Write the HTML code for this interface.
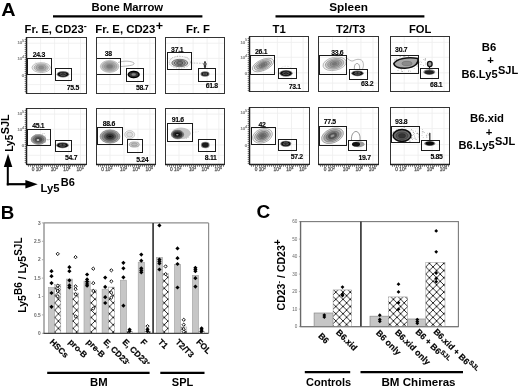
<!DOCTYPE html>
<html><head><meta charset="utf-8"><style>
html,body{margin:0;padding:0;background:#fff;width:520px;height:388px;overflow:hidden}
svg{display:block;font-family:'Liberation Sans',sans-serif;} body{filter:grayscale(1)}
</style></head><body>
<svg xmlns="http://www.w3.org/2000/svg" width="520" height="388" viewBox="0 0 520 388" style="font-family:'Liberation Sans',sans-serif;">
<rect width="520" height="388" fill="#fff"/>
<text transform="translate(1.3,15.8) scale(1.1,1)" font-size="18" font-weight="bold">A</text>
<text x="127.3" y="11.2" font-size="11.3" font-weight="bold" text-anchor="middle" fill="#000" >Bone Marrow</text>
<line x1="53" y1="16.4" x2="202.4" y2="16.4" stroke="#000" stroke-width="2.2"/>
<text x="348.6" y="10.7" font-size="11.8" font-weight="bold" text-anchor="middle" fill="#000" >Spleen</text>
<line x1="275.5" y1="16.4" x2="424.4" y2="16.4" stroke="#000" stroke-width="2.2"/>
<text x="24.6" y="32.6" font-size="11.2" font-weight="bold" text-anchor="start" fill="#000" >Fr. E, CD23<tspan dy="-4" font-size="9">-</tspan></text>
<text x="95.3" y="32.6" font-size="11.35" font-weight="bold" text-anchor="start" fill="#000" >Fr. E, CD23<tspan dx="0.6" dy="-2.4" font-size="12.5">+</tspan></text>
<text x="186" y="32.6" font-size="11.3" font-weight="bold" text-anchor="start" fill="#000" >Fr. F</text>
<text x="272.5" y="32.8" font-size="11.3" font-weight="bold" text-anchor="start" fill="#000" >T1</text>
<text x="336" y="32.8" font-size="11.2" font-weight="bold" text-anchor="start" fill="#000" >T2/T3</text>
<text x="409" y="32.8" font-size="11.2" font-weight="bold" text-anchor="start" fill="#000" >FOL</text>
<line x1="40.6" y1="37.3" x2="40.6" y2="93.6" stroke="#eeeeee" stroke-width="0.8"/>
<line x1="54.6" y1="37.3" x2="54.6" y2="93.6" stroke="#eeeeee" stroke-width="0.8"/>
<line x1="68.6" y1="37.3" x2="68.6" y2="93.6" stroke="#eeeeee" stroke-width="0.8"/>
<line x1="80.5" y1="37.3" x2="80.5" y2="93.6" stroke="#eeeeee" stroke-width="0.8"/>
<line x1="26.6" y1="43.2" x2="86.2" y2="43.2" stroke="#eeeeee" stroke-width="0.8"/>
<line x1="26.6" y1="58.4" x2="86.2" y2="58.4" stroke="#eeeeee" stroke-width="0.8"/>
<line x1="26.6" y1="74.2" x2="86.2" y2="74.2" stroke="#eeeeee" stroke-width="0.8"/>
<line x1="26.6" y1="84.6" x2="86.2" y2="84.6" stroke="#eeeeee" stroke-width="0.8"/>
<circle cx="47.1" cy="70.6" r="0.35" fill="#aaa"/>
<circle cx="41.4" cy="63.5" r="0.35" fill="#aaa"/>
<circle cx="34.3" cy="66.6" r="0.35" fill="#aaa"/>
<circle cx="35.9" cy="62.2" r="0.35" fill="#aaa"/>
<circle cx="42.4" cy="67.1" r="0.35" fill="#aaa"/>
<circle cx="44.4" cy="63.1" r="0.35" fill="#aaa"/>
<circle cx="41.0" cy="66.2" r="0.35" fill="#aaa"/>
<circle cx="33.0" cy="68.2" r="0.35" fill="#aaa"/>
<circle cx="42.3" cy="72.3" r="0.35" fill="#aaa"/>
<circle cx="42.4" cy="65.9" r="0.35" fill="#aaa"/>
<circle cx="48.3" cy="67.2" r="0.35" fill="#aaa"/>
<circle cx="46.7" cy="65.1" r="0.35" fill="#aaa"/>
<circle cx="42.4" cy="70.3" r="0.35" fill="#aaa"/>
<circle cx="45.6" cy="67.0" r="0.35" fill="#aaa"/>
<circle cx="34.5" cy="68.1" r="0.35" fill="#aaa"/>
<circle cx="41.5" cy="69.4" r="0.35" fill="#aaa"/>
<circle cx="42.3" cy="70.5" r="0.35" fill="#aaa"/>
<circle cx="40.6" cy="67.4" r="0.35" fill="#aaa"/>
<ellipse cx="41.2" cy="67.6" rx="9.2" ry="4.9" fill="#f2f2f2" stroke="#777" stroke-width="0.45" />
<ellipse cx="41.2" cy="67.6" rx="7.18" ry="3.82" fill="#c8c8c8" stroke="#777" stroke-width="0.45" />
<ellipse cx="41.2" cy="67.6" rx="5.06" ry="2.7" fill="#a8a8a8" stroke="#777" stroke-width="0.45" />
<ellipse cx="41.2" cy="67.6" rx="2.76" ry="1.47" fill="#8a8a8a" stroke="#777" stroke-width="0.45" />
<ellipse cx="63.0" cy="74.3" rx="6.2" ry="3.2" fill="#777" stroke="none" stroke-width="0.6" />
<ellipse cx="63.0" cy="74.3" rx="5.2" ry="2.4" fill="#0a0a0a" stroke="none" stroke-width="0.6" />
<ellipse cx="63.0" cy="74.3" rx="3.224" ry="1.32" fill="none" stroke="#999" stroke-width="0.45" />
<ellipse cx="61.544" cy="74.3" rx="1.04" ry="0.672" fill="none" stroke="#777" stroke-width="0.4" />
<ellipse cx="64.456" cy="74.3" rx="1.04" ry="0.672" fill="none" stroke="#777" stroke-width="0.4" />
<rect x="27.5" y="58.5" width="24.0" height="16.0" fill="none" stroke="#1a1a1a" stroke-width="1.0"/>
<rect x="55.5" y="68.5" width="16.0" height="12.0" fill="none" stroke="#1a1a1a" stroke-width="1.0"/>
<rect x="26.5" y="37.5" width="60.0" height="56.0" fill="none" stroke="#333" stroke-width="1.0"/>
<text x="32.8" y="57" font-size="6.9" font-weight="bold" text-anchor="start" fill="#000" letter-spacing="-0.3" stroke="#000" stroke-width="0.1">24.3</text>
<text x="66.80000000000001" y="90" font-size="6.9" font-weight="bold" text-anchor="start" fill="#000" letter-spacing="-0.3" stroke="#000" stroke-width="0.1">75.5</text>
<line x1="26.5" y1="37.3" x2="26.5" y2="93.6" stroke="#1a1a1a" stroke-width="1.5"/>
<line x1="24.7" y1="39.5" x2="26.5" y2="39.5" stroke="#444" stroke-width="0.7"/>
<line x1="24.7" y1="41.5" x2="26.5" y2="41.5" stroke="#444" stroke-width="0.7"/>
<line x1="24.7" y1="43.5" x2="26.5" y2="43.5" stroke="#444" stroke-width="0.7"/>
<line x1="24.7" y1="45.5" x2="26.5" y2="45.5" stroke="#444" stroke-width="0.7"/>
<line x1="24.7" y1="47.5" x2="26.5" y2="47.5" stroke="#444" stroke-width="0.7"/>
<line x1="24.7" y1="49.5" x2="26.5" y2="49.5" stroke="#444" stroke-width="0.7"/>
<line x1="24.7" y1="51.5" x2="26.5" y2="51.5" stroke="#444" stroke-width="0.7"/>
<line x1="24.7" y1="53.5" x2="26.5" y2="53.5" stroke="#444" stroke-width="0.7"/>
<line x1="24.7" y1="55.5" x2="26.5" y2="55.5" stroke="#444" stroke-width="0.7"/>
<line x1="24.7" y1="57.5" x2="26.5" y2="57.5" stroke="#444" stroke-width="0.7"/>
<line x1="24.7" y1="59.5" x2="26.5" y2="59.5" stroke="#444" stroke-width="0.7"/>
<line x1="24.7" y1="61.5" x2="26.5" y2="61.5" stroke="#444" stroke-width="0.7"/>
<line x1="24.7" y1="63.5" x2="26.5" y2="63.5" stroke="#444" stroke-width="0.7"/>
<line x1="24.7" y1="65.5" x2="26.5" y2="65.5" stroke="#444" stroke-width="0.7"/>
<line x1="24.7" y1="67.5" x2="26.5" y2="67.5" stroke="#444" stroke-width="0.7"/>
<line x1="24.7" y1="69.5" x2="26.5" y2="69.5" stroke="#444" stroke-width="0.7"/>
<line x1="24.7" y1="71.5" x2="26.5" y2="71.5" stroke="#444" stroke-width="0.7"/>
<line x1="24.7" y1="73.5" x2="26.5" y2="73.5" stroke="#444" stroke-width="0.7"/>
<line x1="24.7" y1="75.5" x2="26.5" y2="75.5" stroke="#444" stroke-width="0.7"/>
<line x1="24.7" y1="77.5" x2="26.5" y2="77.5" stroke="#444" stroke-width="0.7"/>
<line x1="24.7" y1="79.5" x2="26.5" y2="79.5" stroke="#444" stroke-width="0.7"/>
<line x1="24.7" y1="81.5" x2="26.5" y2="81.5" stroke="#444" stroke-width="0.7"/>
<line x1="24.7" y1="83.5" x2="26.5" y2="83.5" stroke="#444" stroke-width="0.7"/>
<line x1="24.7" y1="85.5" x2="26.5" y2="85.5" stroke="#444" stroke-width="0.7"/>
<line x1="24.7" y1="87.5" x2="26.5" y2="87.5" stroke="#444" stroke-width="0.7"/>
<line x1="24.7" y1="89.5" x2="26.5" y2="89.5" stroke="#444" stroke-width="0.7"/>
<line x1="24.7" y1="91.5" x2="26.5" y2="91.5" stroke="#444" stroke-width="0.7"/>
<text x="24.200000000000003" y="44.4174" font-size="4.4" font-weight="normal" text-anchor="end" fill="#777" stroke="#888" stroke-width="0.2">10<tspan dy="-2.2" font-size="3.4">5</tspan></text>
<text x="24.200000000000003" y="60.012499999999996" font-size="4.4" font-weight="normal" text-anchor="end" fill="#777" stroke="#888" stroke-width="0.2">10<tspan dy="-2.2" font-size="3.4">4</tspan></text>
<text x="24.200000000000003" y="76.5084" font-size="4.4" font-weight="normal" text-anchor="end" fill="#777" stroke="#888" stroke-width="0.2">0</text>
<line x1="110.0" y1="37.3" x2="110.0" y2="93.6" stroke="#eeeeee" stroke-width="0.8"/>
<line x1="124.0" y1="37.3" x2="124.0" y2="93.6" stroke="#eeeeee" stroke-width="0.8"/>
<line x1="137.9" y1="37.3" x2="137.9" y2="93.6" stroke="#eeeeee" stroke-width="0.8"/>
<line x1="149.8" y1="37.3" x2="149.8" y2="93.6" stroke="#eeeeee" stroke-width="0.8"/>
<line x1="96.1" y1="43.2" x2="155.4" y2="43.2" stroke="#eeeeee" stroke-width="0.8"/>
<line x1="96.1" y1="58.4" x2="155.4" y2="58.4" stroke="#eeeeee" stroke-width="0.8"/>
<line x1="96.1" y1="74.2" x2="155.4" y2="74.2" stroke="#eeeeee" stroke-width="0.8"/>
<line x1="96.1" y1="84.6" x2="155.4" y2="84.6" stroke="#eeeeee" stroke-width="0.8"/>
<path d="M118,62.5 C124,60.5 131,60.8 134,63 C135,65.5 128,66 121,66.5" fill="none" stroke="#888" stroke-width="0.6" />
<ellipse cx="109.6" cy="66.4" rx="9.3" ry="6.0" fill="#d0d0d0" stroke="#888" stroke-width="0.4" />
<ellipse cx="109.6" cy="66.4" rx="7.44" ry="4.8" fill="#b0b0b0" stroke="#888" stroke-width="0.4" />
<ellipse cx="109.6" cy="66.4" rx="5.39" ry="3.48" fill="#999" stroke="#888" stroke-width="0.4" />
<ellipse cx="109.6" cy="66.4" rx="3.25" ry="2.1" fill="#7a7a7a" stroke="#888" stroke-width="0.4" />
<ellipse cx="133.7" cy="74.5" rx="6.3" ry="3.7" fill="#999" stroke="none" stroke-width="0.6" />
<ellipse cx="133.7" cy="74.5" rx="5.3" ry="3.0" fill="#3a3a3a" stroke="#000" stroke-width="1.4" />
<ellipse cx="133.7" cy="74.5" rx="2.2" ry="1.2" fill="#888" stroke="none" stroke-width="0.6" />
<rect x="96.5" y="58.5" width="24.0" height="16.0" fill="none" stroke="#1a1a1a" stroke-width="1.0"/>
<rect x="126.5" y="68.5" width="17.0" height="13.0" fill="none" stroke="#1a1a1a" stroke-width="1.0"/>
<rect x="96.5" y="37.5" width="59.0" height="56.0" fill="none" stroke="#333" stroke-width="1.0"/>
<text x="104.80000000000001" y="56" font-size="6.9" font-weight="bold" text-anchor="start" fill="#000" letter-spacing="-0.3" stroke="#000" stroke-width="0.1">38</text>
<text x="136.0" y="90" font-size="6.9" font-weight="bold" text-anchor="start" fill="#000" letter-spacing="-0.3" stroke="#000" stroke-width="0.1">58.7</text>
<line x1="179.0" y1="37.3" x2="179.0" y2="93.6" stroke="#eeeeee" stroke-width="0.8"/>
<line x1="193.1" y1="37.3" x2="193.1" y2="93.6" stroke="#eeeeee" stroke-width="0.8"/>
<line x1="207.1" y1="37.3" x2="207.1" y2="93.6" stroke="#eeeeee" stroke-width="0.8"/>
<line x1="219.0" y1="37.3" x2="219.0" y2="93.6" stroke="#eeeeee" stroke-width="0.8"/>
<line x1="165.0" y1="43.2" x2="224.7" y2="43.2" stroke="#eeeeee" stroke-width="0.8"/>
<line x1="165.0" y1="58.4" x2="224.7" y2="58.4" stroke="#eeeeee" stroke-width="0.8"/>
<line x1="165.0" y1="74.2" x2="224.7" y2="74.2" stroke="#eeeeee" stroke-width="0.8"/>
<line x1="165.0" y1="84.6" x2="224.7" y2="84.6" stroke="#eeeeee" stroke-width="0.8"/>
<circle cx="180.4" cy="67.0" r="0.35" fill="#888"/>
<circle cx="173.7" cy="65.9" r="0.35" fill="#888"/>
<circle cx="177.7" cy="61.0" r="0.35" fill="#888"/>
<circle cx="190.3" cy="62.7" r="0.35" fill="#888"/>
<circle cx="179.5" cy="65.3" r="0.35" fill="#888"/>
<circle cx="187.7" cy="62.1" r="0.35" fill="#888"/>
<circle cx="183.9" cy="58.4" r="0.35" fill="#888"/>
<circle cx="176.9" cy="60.3" r="0.35" fill="#888"/>
<circle cx="172.7" cy="57.7" r="0.35" fill="#888"/>
<circle cx="170.0" cy="61.4" r="0.35" fill="#888"/>
<circle cx="178.4" cy="60.8" r="0.35" fill="#888"/>
<circle cx="180.3" cy="57.2" r="0.35" fill="#888"/>
<circle cx="179.2" cy="63.3" r="0.35" fill="#888"/>
<circle cx="185.0" cy="58.9" r="0.35" fill="#888"/>
<circle cx="177.7" cy="56.2" r="0.35" fill="#888"/>
<circle cx="177.3" cy="56.1" r="0.35" fill="#888"/>
<circle cx="171.7" cy="65.8" r="0.35" fill="#888"/>
<circle cx="169.3" cy="64.3" r="0.35" fill="#888"/>
<circle cx="182.4" cy="60.8" r="0.35" fill="#888"/>
<circle cx="183.3" cy="64.5" r="0.35" fill="#888"/>
<circle cx="187.2" cy="61.3" r="0.35" fill="#888"/>
<circle cx="175.4" cy="59.7" r="0.35" fill="#888"/>
<circle cx="172.7" cy="62.0" r="0.35" fill="#888"/>
<circle cx="174.6" cy="66.2" r="0.35" fill="#888"/>
<circle cx="170.4" cy="59.1" r="0.35" fill="#888"/>
<circle cx="175.2" cy="56.5" r="0.35" fill="#888"/>
<circle cx="186.9" cy="57.1" r="0.35" fill="#888"/>
<circle cx="177.6" cy="59.9" r="0.35" fill="#888"/>
<circle cx="187.0" cy="57.3" r="0.35" fill="#888"/>
<circle cx="187.0" cy="59.4" r="0.35" fill="#888"/>
<ellipse cx="179.8" cy="62.2" rx="10.6" ry="5.9" fill="#f4f4f4" stroke="#777" stroke-width="0.7" stroke-dasharray="0.6 1.0"/>
<ellipse cx="179.8" cy="63.0" rx="8.0" ry="3.7" fill="#b5b5b5" stroke="#333" stroke-width="0.6" />
<ellipse cx="179.8" cy="63.0" rx="5.6" ry="2.59" fill="#9a9a9a" stroke="#333" stroke-width="0.6" />
<ellipse cx="179.8" cy="63.0" rx="3.2" ry="1.48" fill="#777" stroke="#333" stroke-width="0.6" />
<path d="M191,63 L203,63.3" fill="none" stroke="#777" stroke-width="0.7" stroke-dasharray="0.6 1.0"/>
<ellipse cx="205.0" cy="64.8" rx="1.2" ry="3.8" fill="#333" stroke="none" stroke-width="0.6" />
<ellipse cx="205.0" cy="64.0" rx="1.8" ry="1.2" fill="#666" stroke="none" stroke-width="0.6" />
<ellipse cx="205.0" cy="74.0" rx="4.5" ry="2.7" fill="#777" stroke="none" stroke-width="0.6" />
<ellipse cx="205.0" cy="74.0" rx="3.5" ry="1.9" fill="#0a0a0a" stroke="none" stroke-width="0.6" />
<ellipse cx="205.0" cy="74.0" rx="2.17" ry="1.045" fill="none" stroke="#999" stroke-width="0.45" />
<ellipse cx="204.02" cy="74.0" rx="0.7000000000000001" ry="0.532" fill="none" stroke="#777" stroke-width="0.4" />
<ellipse cx="205.98" cy="74.0" rx="0.7000000000000001" ry="0.532" fill="none" stroke="#777" stroke-width="0.4" />
<rect x="167.5" y="52.5" width="24.0" height="17.0" fill="none" stroke="#1a1a1a" stroke-width="1.0"/>
<rect x="198.5" y="68.5" width="17.0" height="13.0" fill="none" stroke="#1a1a1a" stroke-width="1.0"/>
<rect x="165.5" y="37.5" width="59.0" height="56.0" fill="none" stroke="#333" stroke-width="1.0"/>
<text x="171.1" y="52" font-size="6.9" font-weight="bold" text-anchor="start" fill="#000" letter-spacing="-0.3" stroke="#000" stroke-width="0.1">37.1</text>
<text x="205.70000000000002" y="88" font-size="6.9" font-weight="bold" text-anchor="start" fill="#000" letter-spacing="-0.3" stroke="#000" stroke-width="0.1">61.8</text>
<line x1="263.5" y1="36.6" x2="263.5" y2="91.9" stroke="#eeeeee" stroke-width="0.8"/>
<line x1="277.4" y1="36.6" x2="277.4" y2="91.9" stroke="#eeeeee" stroke-width="0.8"/>
<line x1="291.3" y1="36.6" x2="291.3" y2="91.9" stroke="#eeeeee" stroke-width="0.8"/>
<line x1="303.1" y1="36.6" x2="303.1" y2="91.9" stroke="#eeeeee" stroke-width="0.8"/>
<line x1="249.6" y1="42.4" x2="308.7" y2="42.4" stroke="#eeeeee" stroke-width="0.8"/>
<line x1="249.6" y1="57.3" x2="308.7" y2="57.3" stroke="#eeeeee" stroke-width="0.8"/>
<line x1="249.6" y1="72.8" x2="308.7" y2="72.8" stroke="#eeeeee" stroke-width="0.8"/>
<line x1="249.6" y1="83.1" x2="308.7" y2="83.1" stroke="#eeeeee" stroke-width="0.8"/>
<ellipse cx="263.0" cy="65.0" rx="11.5" ry="5.4" fill="#f0f0f0" stroke="#555" stroke-width="0.4" transform="rotate(-24 263.0 65.0)" />
<ellipse cx="263.0" cy="65.0" rx="9.2" ry="4.32" fill="#d0d0d0" stroke="#555" stroke-width="0.4" transform="rotate(-24 263.0 65.0)" />
<ellipse cx="263.0" cy="65.0" rx="6.9" ry="3.24" fill="#aaa" stroke="#555" stroke-width="0.4" transform="rotate(-24 263.0 65.0)" />
<ellipse cx="263.0" cy="65.0" rx="4.6" ry="2.16" fill="#8a8a8a" stroke="#555" stroke-width="0.4" transform="rotate(-24 263.0 65.0)" />
<ellipse cx="263.0" cy="65.0" rx="2.3" ry="1.08" fill="#777" stroke="#555" stroke-width="0.4" transform="rotate(-24 263.0 65.0)" />
<path d="M281,68 C284,65.5 288,65.5 291,68" fill="none" stroke="#aaa" stroke-width="0.5" stroke-dasharray="0.6 1.0"/>
<ellipse cx="286.0" cy="73.3" rx="6.6" ry="3.4000000000000004" fill="#777" stroke="none" stroke-width="0.6" />
<ellipse cx="286.0" cy="73.3" rx="5.6" ry="2.6" fill="#0a0a0a" stroke="none" stroke-width="0.6" />
<ellipse cx="286.0" cy="73.3" rx="3.472" ry="1.4300000000000002" fill="none" stroke="#999" stroke-width="0.45" />
<ellipse cx="284.432" cy="73.3" rx="1.1199999999999999" ry="0.7280000000000001" fill="none" stroke="#777" stroke-width="0.4" />
<ellipse cx="287.568" cy="73.3" rx="1.1199999999999999" ry="0.7280000000000001" fill="none" stroke="#777" stroke-width="0.4" />
<rect x="250.5" y="55.5" width="24.0" height="19.0" fill="none" stroke="#1a1a1a" stroke-width="1.0"/>
<rect x="278.5" y="68.5" width="18.0" height="10.0" fill="none" stroke="#1a1a1a" stroke-width="1.0"/>
<rect x="249.5" y="36.5" width="59.0" height="55.0" fill="none" stroke="#333" stroke-width="1.0"/>
<text x="255.0" y="54" font-size="6.9" font-weight="bold" text-anchor="start" fill="#000" letter-spacing="-0.3" stroke="#000" stroke-width="0.1">26.1</text>
<text x="288.7" y="89" font-size="6.9" font-weight="bold" text-anchor="start" fill="#000" letter-spacing="-0.3" stroke="#000" stroke-width="0.1">73.1</text>
<line x1="249.5" y1="36.6" x2="249.5" y2="91.9" stroke="#1a1a1a" stroke-width="1.5"/>
<line x1="247.7" y1="38.5" x2="249.5" y2="38.5" stroke="#444" stroke-width="0.7"/>
<line x1="247.7" y1="40.5" x2="249.5" y2="40.5" stroke="#444" stroke-width="0.7"/>
<line x1="247.7" y1="42.5" x2="249.5" y2="42.5" stroke="#444" stroke-width="0.7"/>
<line x1="247.7" y1="44.5" x2="249.5" y2="44.5" stroke="#444" stroke-width="0.7"/>
<line x1="247.7" y1="46.5" x2="249.5" y2="46.5" stroke="#444" stroke-width="0.7"/>
<line x1="247.7" y1="48.5" x2="249.5" y2="48.5" stroke="#444" stroke-width="0.7"/>
<line x1="247.7" y1="50.5" x2="249.5" y2="50.5" stroke="#444" stroke-width="0.7"/>
<line x1="247.7" y1="52.5" x2="249.5" y2="52.5" stroke="#444" stroke-width="0.7"/>
<line x1="247.7" y1="54.5" x2="249.5" y2="54.5" stroke="#444" stroke-width="0.7"/>
<line x1="247.7" y1="56.5" x2="249.5" y2="56.5" stroke="#444" stroke-width="0.7"/>
<line x1="247.7" y1="58.5" x2="249.5" y2="58.5" stroke="#444" stroke-width="0.7"/>
<line x1="247.7" y1="60.5" x2="249.5" y2="60.5" stroke="#444" stroke-width="0.7"/>
<line x1="247.7" y1="62.5" x2="249.5" y2="62.5" stroke="#444" stroke-width="0.7"/>
<line x1="247.7" y1="64.5" x2="249.5" y2="64.5" stroke="#444" stroke-width="0.7"/>
<line x1="247.7" y1="66.5" x2="249.5" y2="66.5" stroke="#444" stroke-width="0.7"/>
<line x1="247.7" y1="68.5" x2="249.5" y2="68.5" stroke="#444" stroke-width="0.7"/>
<line x1="247.7" y1="70.5" x2="249.5" y2="70.5" stroke="#444" stroke-width="0.7"/>
<line x1="247.7" y1="72.5" x2="249.5" y2="72.5" stroke="#444" stroke-width="0.7"/>
<line x1="247.7" y1="74.5" x2="249.5" y2="74.5" stroke="#444" stroke-width="0.7"/>
<line x1="247.7" y1="76.5" x2="249.5" y2="76.5" stroke="#444" stroke-width="0.7"/>
<line x1="247.7" y1="78.5" x2="249.5" y2="78.5" stroke="#444" stroke-width="0.7"/>
<line x1="247.7" y1="80.5" x2="249.5" y2="80.5" stroke="#444" stroke-width="0.7"/>
<line x1="247.7" y1="82.5" x2="249.5" y2="82.5" stroke="#444" stroke-width="0.7"/>
<line x1="247.7" y1="84.5" x2="249.5" y2="84.5" stroke="#444" stroke-width="0.7"/>
<line x1="247.7" y1="86.5" x2="249.5" y2="86.5" stroke="#444" stroke-width="0.7"/>
<line x1="247.7" y1="88.5" x2="249.5" y2="88.5" stroke="#444" stroke-width="0.7"/>
<line x1="247.7" y1="90.5" x2="249.5" y2="90.5" stroke="#444" stroke-width="0.7"/>
<text x="247.2" y="43.619400000000006" font-size="4.4" font-weight="normal" text-anchor="end" fill="#777" stroke="#888" stroke-width="0.2">10<tspan dy="-2.2" font-size="3.4">5</tspan></text>
<text x="247.2" y="58.93750000000001" font-size="4.4" font-weight="normal" text-anchor="end" fill="#777" stroke="#888" stroke-width="0.2">10<tspan dy="-2.2" font-size="3.4">4</tspan></text>
<text x="247.2" y="75.1404" font-size="4.4" font-weight="normal" text-anchor="end" fill="#777" stroke="#888" stroke-width="0.2">0</text>
<line x1="332.6" y1="36.6" x2="332.6" y2="91.9" stroke="#eeeeee" stroke-width="0.8"/>
<line x1="346.8" y1="36.6" x2="346.8" y2="91.9" stroke="#eeeeee" stroke-width="0.8"/>
<line x1="360.9" y1="36.6" x2="360.9" y2="91.9" stroke="#eeeeee" stroke-width="0.8"/>
<line x1="373.0" y1="36.6" x2="373.0" y2="91.9" stroke="#eeeeee" stroke-width="0.8"/>
<line x1="318.5" y1="42.4" x2="378.7" y2="42.4" stroke="#eeeeee" stroke-width="0.8"/>
<line x1="318.5" y1="57.3" x2="378.7" y2="57.3" stroke="#eeeeee" stroke-width="0.8"/>
<line x1="318.5" y1="72.8" x2="378.7" y2="72.8" stroke="#eeeeee" stroke-width="0.8"/>
<line x1="318.5" y1="83.1" x2="378.7" y2="83.1" stroke="#eeeeee" stroke-width="0.8"/>
<path d="M345.5,57.5 C349,59 350,61.5 353,61 C356,59 360,58.5 362.5,61 C364,64 363.5,68 362,70" fill="none" stroke="#888" stroke-width="0.6" />
<path d="M354.5,70 C354,66 355,63.5 357,63.5 C359,63.5 360,66 359.5,70" fill="none" stroke="#666" stroke-width="0.6" />
<ellipse cx="334.6" cy="63.8" rx="11.8" ry="6.5" fill="#f0f0f0" stroke="#666" stroke-width="0.4" transform="rotate(-12 334.6 63.8)" />
<ellipse cx="334.6" cy="63.8" rx="9.44" ry="5.2" fill="#c4c4c4" stroke="#666" stroke-width="0.4" transform="rotate(-12 334.6 63.8)" />
<ellipse cx="334.6" cy="63.8" rx="7.08" ry="3.9" fill="#a8a8a8" stroke="#666" stroke-width="0.4" transform="rotate(-12 334.6 63.8)" />
<ellipse cx="334.6" cy="63.8" rx="4.72" ry="2.6" fill="#909090" stroke="#666" stroke-width="0.4" transform="rotate(-12 334.6 63.8)" />
<ellipse cx="334.6" cy="63.8" rx="2.36" ry="1.3" fill="#777" stroke="#666" stroke-width="0.4" transform="rotate(-12 334.6 63.8)" />
<ellipse cx="357.5" cy="73.3" rx="6.2" ry="2.9000000000000004" fill="#777" stroke="none" stroke-width="0.6" />
<ellipse cx="357.5" cy="73.3" rx="5.2" ry="2.1" fill="#0a0a0a" stroke="none" stroke-width="0.6" />
<ellipse cx="357.5" cy="73.3" rx="3.224" ry="1.1550000000000002" fill="none" stroke="#999" stroke-width="0.45" />
<ellipse cx="356.044" cy="73.3" rx="1.04" ry="0.5880000000000001" fill="none" stroke="#777" stroke-width="0.4" />
<ellipse cx="358.956" cy="73.3" rx="1.04" ry="0.5880000000000001" fill="none" stroke="#777" stroke-width="0.4" />
<rect x="319.5" y="55.5" width="27.0" height="19.0" fill="none" stroke="#1a1a1a" stroke-width="1.0"/>
<rect x="349.5" y="69.5" width="18.0" height="10.0" fill="none" stroke="#1a1a1a" stroke-width="1.0"/>
<rect x="318.5" y="36.5" width="60.0" height="55.0" fill="none" stroke="#333" stroke-width="1.0"/>
<text x="331.2" y="55" font-size="6.9" font-weight="bold" text-anchor="start" fill="#000" letter-spacing="-0.3" stroke="#000" stroke-width="0.1">33.6</text>
<text x="361.0" y="86" font-size="6.9" font-weight="bold" text-anchor="start" fill="#000" letter-spacing="-0.3" stroke="#000" stroke-width="0.1">63.2</text>
<line x1="404.2" y1="36.6" x2="404.2" y2="91.9" stroke="#eeeeee" stroke-width="0.8"/>
<line x1="418.1" y1="36.6" x2="418.1" y2="91.9" stroke="#eeeeee" stroke-width="0.8"/>
<line x1="432.1" y1="36.6" x2="432.1" y2="91.9" stroke="#eeeeee" stroke-width="0.8"/>
<line x1="444.0" y1="36.6" x2="444.0" y2="91.9" stroke="#eeeeee" stroke-width="0.8"/>
<line x1="390.2" y1="42.4" x2="449.6" y2="42.4" stroke="#eeeeee" stroke-width="0.8"/>
<line x1="390.2" y1="57.3" x2="449.6" y2="57.3" stroke="#eeeeee" stroke-width="0.8"/>
<line x1="390.2" y1="72.8" x2="449.6" y2="72.8" stroke="#eeeeee" stroke-width="0.8"/>
<line x1="390.2" y1="83.1" x2="449.6" y2="83.1" stroke="#eeeeee" stroke-width="0.8"/>
<circle cx="396.7" cy="59.2" r="0.4" fill="#777"/>
<circle cx="408.7" cy="56.5" r="0.4" fill="#777"/>
<circle cx="404.2" cy="56.3" r="0.4" fill="#777"/>
<circle cx="414.1" cy="65.0" r="0.4" fill="#777"/>
<circle cx="415.2" cy="61.8" r="0.4" fill="#777"/>
<circle cx="408.7" cy="62.4" r="0.4" fill="#777"/>
<circle cx="398.4" cy="64.8" r="0.4" fill="#777"/>
<circle cx="395.2" cy="62.4" r="0.4" fill="#777"/>
<circle cx="411.3" cy="64.3" r="0.4" fill="#777"/>
<circle cx="402.6" cy="71.5" r="0.4" fill="#777"/>
<circle cx="405.5" cy="60.8" r="0.4" fill="#777"/>
<circle cx="406.5" cy="61.1" r="0.4" fill="#777"/>
<circle cx="401.4" cy="62.1" r="0.4" fill="#777"/>
<circle cx="417.6" cy="64.1" r="0.4" fill="#777"/>
<circle cx="406.6" cy="67.6" r="0.4" fill="#777"/>
<circle cx="417.5" cy="63.2" r="0.4" fill="#777"/>
<circle cx="401.8" cy="71.6" r="0.4" fill="#777"/>
<circle cx="394.2" cy="62.4" r="0.4" fill="#777"/>
<circle cx="408.7" cy="71.4" r="0.4" fill="#777"/>
<circle cx="400.2" cy="56.7" r="0.4" fill="#777"/>
<circle cx="410.8" cy="61.3" r="0.4" fill="#777"/>
<circle cx="401.5" cy="66.5" r="0.4" fill="#777"/>
<circle cx="407.1" cy="65.6" r="0.4" fill="#777"/>
<circle cx="401.7" cy="69.9" r="0.4" fill="#777"/>
<circle cx="416.1" cy="64.1" r="0.4" fill="#777"/>
<circle cx="401.1" cy="67.8" r="0.4" fill="#777"/>
<circle cx="408.9" cy="59.0" r="0.4" fill="#777"/>
<circle cx="401.2" cy="69.1" r="0.4" fill="#777"/>
<circle cx="404.1" cy="62.2" r="0.4" fill="#777"/>
<circle cx="407.0" cy="63.8" r="0.4" fill="#777"/>
<circle cx="405.0" cy="56.6" r="0.4" fill="#777"/>
<circle cx="416.9" cy="64.8" r="0.4" fill="#777"/>
<circle cx="398.2" cy="68.5" r="0.4" fill="#777"/>
<circle cx="407.9" cy="64.1" r="0.4" fill="#777"/>
<circle cx="410.5" cy="71.1" r="0.4" fill="#777"/>
<circle cx="408.9" cy="70.6" r="0.4" fill="#777"/>
<circle cx="416.8" cy="60.7" r="0.4" fill="#777"/>
<circle cx="400.5" cy="68.0" r="0.4" fill="#777"/>
<circle cx="393.3" cy="62.9" r="0.4" fill="#777"/>
<circle cx="414.1" cy="68.3" r="0.4" fill="#777"/>
<circle cx="408.7" cy="56.9" r="0.4" fill="#777"/>
<circle cx="417.8" cy="65.8" r="0.4" fill="#777"/>
<circle cx="411.6" cy="66.5" r="0.4" fill="#777"/>
<circle cx="395.1" cy="59.1" r="0.4" fill="#777"/>
<circle cx="398.0" cy="70.5" r="0.4" fill="#777"/>
<circle cx="397.8" cy="62.7" r="0.4" fill="#777"/>
<circle cx="402.7" cy="67.1" r="0.4" fill="#777"/>
<circle cx="409.6" cy="65.5" r="0.4" fill="#777"/>
<circle cx="400.0" cy="56.6" r="0.4" fill="#777"/>
<circle cx="406.6" cy="65.5" r="0.4" fill="#777"/>
<circle cx="414.8" cy="63.5" r="0.4" fill="#777"/>
<circle cx="399.5" cy="66.2" r="0.4" fill="#777"/>
<circle cx="394.8" cy="60.0" r="0.4" fill="#777"/>
<circle cx="396.6" cy="65.4" r="0.4" fill="#777"/>
<circle cx="417.1" cy="66.6" r="0.4" fill="#777"/>
<circle cx="414.3" cy="65.1" r="0.4" fill="#777"/>
<circle cx="407.6" cy="61.5" r="0.4" fill="#777"/>
<circle cx="403.5" cy="56.3" r="0.4" fill="#777"/>
<circle cx="396.8" cy="58.8" r="0.4" fill="#777"/>
<circle cx="412.0" cy="67.3" r="0.4" fill="#777"/>
<circle cx="425.2" cy="58.5" r="0.4" fill="#888"/>
<circle cx="421.5" cy="62.2" r="0.4" fill="#888"/>
<circle cx="428.1" cy="62.0" r="0.4" fill="#888"/>
<circle cx="419.7" cy="62.6" r="0.4" fill="#888"/>
<circle cx="420.9" cy="64.5" r="0.4" fill="#888"/>
<circle cx="423.4" cy="65.5" r="0.4" fill="#888"/>
<circle cx="423.6" cy="59.4" r="0.4" fill="#888"/>
<circle cx="420.0" cy="61.2" r="0.4" fill="#888"/>
<circle cx="425.3" cy="64.8" r="0.4" fill="#888"/>
<circle cx="424.9" cy="60.1" r="0.4" fill="#888"/>
<circle cx="425.4" cy="58.9" r="0.4" fill="#888"/>
<circle cx="425.6" cy="60.1" r="0.4" fill="#888"/>
<circle cx="427.7" cy="64.0" r="0.4" fill="#888"/>
<circle cx="425.1" cy="59.5" r="0.4" fill="#888"/>
<circle cx="425.8" cy="63.0" r="0.4" fill="#888"/>
<path d="M393.8,63.8 C396,58.5 408,56.5 418,58.5 C419,62 416,67.8 405,68.3 C398,68.4 394.5,66.5 393.8,63.8Z" fill="#a9a9a9" stroke="#111" stroke-width="1.6" />
<ellipse cx="407.0" cy="63.5" rx="5.0" ry="2.2" fill="#8a8a8a" stroke="#555" stroke-width="0.4" />
<ellipse cx="429.8" cy="64.0" rx="2.3" ry="2.6" fill="#999" stroke="#111" stroke-width="1.3" />
<path d="M429.5,66.5 L429.5,70" fill="none" stroke="#111" stroke-width="1.2" />
<ellipse cx="429.3" cy="72.1" rx="6.0" ry="2.8" fill="#888" stroke="none" stroke-width="0.6" />
<ellipse cx="429.3" cy="72.3" rx="4.6" ry="2.0" fill="#222" stroke="none" stroke-width="0.6" />
<rect x="390.5" y="55.5" width="28.0" height="18.0" fill="none" stroke="#1a1a1a" stroke-width="1.0"/>
<rect x="420.5" y="68.5" width="18.0" height="10.0" fill="none" stroke="#1a1a1a" stroke-width="1.0"/>
<rect x="390.5" y="36.5" width="59.0" height="55.0" fill="none" stroke="#333" stroke-width="1.0"/>
<text x="395.09999999999997" y="52" font-size="6.9" font-weight="bold" text-anchor="start" fill="#000" letter-spacing="-0.3" stroke="#000" stroke-width="0.1">30.7</text>
<text x="430.09999999999997" y="87" font-size="6.9" font-weight="bold" text-anchor="start" fill="#000" letter-spacing="-0.3" stroke="#000" stroke-width="0.1">68.1</text>
<line x1="40.6" y1="108.2" x2="40.6" y2="164.3" stroke="#eeeeee" stroke-width="0.8"/>
<line x1="54.6" y1="108.2" x2="54.6" y2="164.3" stroke="#eeeeee" stroke-width="0.8"/>
<line x1="68.6" y1="108.2" x2="68.6" y2="164.3" stroke="#eeeeee" stroke-width="0.8"/>
<line x1="80.5" y1="108.2" x2="80.5" y2="164.3" stroke="#eeeeee" stroke-width="0.8"/>
<line x1="26.6" y1="114.1" x2="86.2" y2="114.1" stroke="#eeeeee" stroke-width="0.8"/>
<line x1="26.6" y1="129.2" x2="86.2" y2="129.2" stroke="#eeeeee" stroke-width="0.8"/>
<line x1="26.6" y1="144.9" x2="86.2" y2="144.9" stroke="#eeeeee" stroke-width="0.8"/>
<line x1="26.6" y1="155.3" x2="86.2" y2="155.3" stroke="#eeeeee" stroke-width="0.8"/>
<circle cx="40.4" cy="140.6" r="0.4" fill="#777"/>
<circle cx="40.6" cy="137.2" r="0.4" fill="#777"/>
<circle cx="36.7" cy="137.7" r="0.4" fill="#777"/>
<circle cx="48.0" cy="140.0" r="0.4" fill="#777"/>
<circle cx="47.8" cy="139.4" r="0.4" fill="#777"/>
<circle cx="44.5" cy="139.3" r="0.4" fill="#777"/>
<circle cx="34.7" cy="141.0" r="0.4" fill="#777"/>
<circle cx="45.0" cy="140.5" r="0.4" fill="#777"/>
<circle cx="35.9" cy="134.3" r="0.4" fill="#777"/>
<circle cx="37.0" cy="136.7" r="0.4" fill="#777"/>
<circle cx="43.9" cy="138.3" r="0.4" fill="#777"/>
<circle cx="45.1" cy="136.0" r="0.4" fill="#777"/>
<circle cx="43.9" cy="140.1" r="0.4" fill="#777"/>
<circle cx="39.1" cy="143.6" r="0.4" fill="#777"/>
<circle cx="44.9" cy="142.6" r="0.4" fill="#777"/>
<circle cx="38.5" cy="135.7" r="0.4" fill="#777"/>
<circle cx="39.8" cy="138.1" r="0.4" fill="#777"/>
<circle cx="45.8" cy="139.5" r="0.4" fill="#777"/>
<circle cx="39.5" cy="134.9" r="0.4" fill="#777"/>
<circle cx="39.3" cy="142.7" r="0.4" fill="#777"/>
<circle cx="37.3" cy="139.5" r="0.4" fill="#777"/>
<circle cx="44.1" cy="133.7" r="0.4" fill="#777"/>
<circle cx="42.3" cy="143.0" r="0.4" fill="#777"/>
<circle cx="33.7" cy="137.6" r="0.4" fill="#777"/>
<circle cx="41.4" cy="135.3" r="0.4" fill="#777"/>
<circle cx="45.1" cy="138.2" r="0.4" fill="#777"/>
<circle cx="35.2" cy="141.1" r="0.4" fill="#777"/>
<circle cx="45.6" cy="141.9" r="0.4" fill="#777"/>
<circle cx="49.1" cy="139.7" r="0.4" fill="#777"/>
<circle cx="42.6" cy="134.0" r="0.4" fill="#777"/>
<ellipse cx="38.5" cy="139.5" rx="7.4" ry="5.0" fill="#a0a0a0" stroke="#555" stroke-width="0.4" />
<ellipse cx="38.5" cy="139.5" rx="5.55" ry="3.75" fill="#777" stroke="#555" stroke-width="0.4" />
<ellipse cx="38.5" cy="139.5" rx="3.7" ry="2.5" fill="#4a4a4a" stroke="#555" stroke-width="0.4" />
<ellipse cx="38.5" cy="139.5" rx="1.85" ry="1.25" fill="#333" stroke="#555" stroke-width="0.4" />
<ellipse cx="38.0" cy="140.0" rx="1.4" ry="0.9" fill="#ccc" stroke="none" stroke-width="0.6" />
<ellipse cx="62.5" cy="145.2" rx="6.2" ry="3.0" fill="#777" stroke="none" stroke-width="0.6" />
<ellipse cx="62.5" cy="145.2" rx="5.2" ry="2.2" fill="#0a0a0a" stroke="none" stroke-width="0.6" />
<ellipse cx="62.5" cy="145.2" rx="3.224" ry="1.2100000000000002" fill="none" stroke="#999" stroke-width="0.45" />
<ellipse cx="61.044" cy="145.2" rx="1.04" ry="0.6160000000000001" fill="none" stroke="#777" stroke-width="0.4" />
<ellipse cx="63.956" cy="145.2" rx="1.04" ry="0.6160000000000001" fill="none" stroke="#777" stroke-width="0.4" />
<rect x="27.5" y="129.5" width="23.0" height="16.0" fill="none" stroke="#1a1a1a" stroke-width="1.0"/>
<rect x="55.5" y="140.5" width="16.0" height="11.0" fill="none" stroke="#1a1a1a" stroke-width="1.0"/>
<rect x="26.5" y="108.5" width="60.0" height="56.0" fill="none" stroke="#333" stroke-width="1.0"/>
<text x="32.199999999999996" y="128" font-size="6.9" font-weight="bold" text-anchor="start" fill="#000" letter-spacing="-0.3" stroke="#000" stroke-width="0.1">45.1</text>
<text x="65.0" y="160" font-size="6.9" font-weight="bold" text-anchor="start" fill="#000" letter-spacing="-0.3" stroke="#000" stroke-width="0.1">54.7</text>
<line x1="26.5" y1="108.2" x2="26.5" y2="164.3" stroke="#1a1a1a" stroke-width="1.5"/>
<line x1="24.7" y1="110.5" x2="26.5" y2="110.5" stroke="#444" stroke-width="0.7"/>
<line x1="24.7" y1="112.5" x2="26.5" y2="112.5" stroke="#444" stroke-width="0.7"/>
<line x1="24.7" y1="114.5" x2="26.5" y2="114.5" stroke="#444" stroke-width="0.7"/>
<line x1="24.7" y1="116.5" x2="26.5" y2="116.5" stroke="#444" stroke-width="0.7"/>
<line x1="24.7" y1="118.5" x2="26.5" y2="118.5" stroke="#444" stroke-width="0.7"/>
<line x1="24.7" y1="120.5" x2="26.5" y2="120.5" stroke="#444" stroke-width="0.7"/>
<line x1="24.7" y1="122.5" x2="26.5" y2="122.5" stroke="#444" stroke-width="0.7"/>
<line x1="24.7" y1="124.5" x2="26.5" y2="124.5" stroke="#444" stroke-width="0.7"/>
<line x1="24.7" y1="126.5" x2="26.5" y2="126.5" stroke="#444" stroke-width="0.7"/>
<line x1="24.7" y1="128.5" x2="26.5" y2="128.5" stroke="#444" stroke-width="0.7"/>
<line x1="24.7" y1="130.5" x2="26.5" y2="130.5" stroke="#444" stroke-width="0.7"/>
<line x1="24.7" y1="132.5" x2="26.5" y2="132.5" stroke="#444" stroke-width="0.7"/>
<line x1="24.7" y1="134.5" x2="26.5" y2="134.5" stroke="#444" stroke-width="0.7"/>
<line x1="24.7" y1="136.5" x2="26.5" y2="136.5" stroke="#444" stroke-width="0.7"/>
<line x1="24.7" y1="138.5" x2="26.5" y2="138.5" stroke="#444" stroke-width="0.7"/>
<line x1="24.7" y1="140.5" x2="26.5" y2="140.5" stroke="#444" stroke-width="0.7"/>
<line x1="24.7" y1="142.5" x2="26.5" y2="142.5" stroke="#444" stroke-width="0.7"/>
<line x1="24.7" y1="144.5" x2="26.5" y2="144.5" stroke="#444" stroke-width="0.7"/>
<line x1="24.7" y1="146.5" x2="26.5" y2="146.5" stroke="#444" stroke-width="0.7"/>
<line x1="24.7" y1="148.5" x2="26.5" y2="148.5" stroke="#444" stroke-width="0.7"/>
<line x1="24.7" y1="150.5" x2="26.5" y2="150.5" stroke="#444" stroke-width="0.7"/>
<line x1="24.7" y1="152.5" x2="26.5" y2="152.5" stroke="#444" stroke-width="0.7"/>
<line x1="24.7" y1="154.5" x2="26.5" y2="154.5" stroke="#444" stroke-width="0.7"/>
<line x1="24.7" y1="156.5" x2="26.5" y2="156.5" stroke="#444" stroke-width="0.7"/>
<line x1="24.7" y1="158.5" x2="26.5" y2="158.5" stroke="#444" stroke-width="0.7"/>
<line x1="24.7" y1="160.5" x2="26.5" y2="160.5" stroke="#444" stroke-width="0.7"/>
<line x1="24.7" y1="162.5" x2="26.5" y2="162.5" stroke="#444" stroke-width="0.7"/>
<text x="24.200000000000003" y="115.2978" font-size="4.4" font-weight="normal" text-anchor="end" fill="#777" stroke="#888" stroke-width="0.2">10<tspan dy="-2.2" font-size="3.4">5</tspan></text>
<text x="24.200000000000003" y="130.8375" font-size="4.4" font-weight="normal" text-anchor="end" fill="#777" stroke="#888" stroke-width="0.2">10<tspan dy="-2.2" font-size="3.4">4</tspan></text>
<text x="24.200000000000003" y="147.2748" font-size="4.4" font-weight="normal" text-anchor="end" fill="#777" stroke="#888" stroke-width="0.2">0</text>
<line x1="26.6" y1="164.5" x2="86.2" y2="164.5" stroke="#1a1a1a" stroke-width="1.5"/>
<line x1="28.5" y1="164.5" x2="28.5" y2="166.8" stroke="#444" stroke-width="0.7"/>
<line x1="30.5" y1="164.5" x2="30.5" y2="166.8" stroke="#444" stroke-width="0.7"/>
<line x1="32.5" y1="164.5" x2="32.5" y2="166.8" stroke="#444" stroke-width="0.7"/>
<line x1="34.5" y1="164.5" x2="34.5" y2="166.8" stroke="#444" stroke-width="0.7"/>
<line x1="36.5" y1="164.5" x2="36.5" y2="166.8" stroke="#444" stroke-width="0.7"/>
<line x1="38.5" y1="164.5" x2="38.5" y2="166.8" stroke="#444" stroke-width="0.7"/>
<line x1="40.5" y1="164.5" x2="40.5" y2="166.8" stroke="#444" stroke-width="0.7"/>
<line x1="42.5" y1="164.5" x2="42.5" y2="166.8" stroke="#444" stroke-width="0.7"/>
<line x1="44.5" y1="164.5" x2="44.5" y2="166.8" stroke="#444" stroke-width="0.7"/>
<line x1="46.5" y1="164.5" x2="46.5" y2="166.8" stroke="#444" stroke-width="0.7"/>
<line x1="48.5" y1="164.5" x2="48.5" y2="166.8" stroke="#444" stroke-width="0.7"/>
<line x1="50.5" y1="164.5" x2="50.5" y2="166.8" stroke="#444" stroke-width="0.7"/>
<line x1="52.5" y1="164.5" x2="52.5" y2="166.8" stroke="#444" stroke-width="0.7"/>
<line x1="54.5" y1="164.5" x2="54.5" y2="166.8" stroke="#444" stroke-width="0.7"/>
<line x1="56.5" y1="164.5" x2="56.5" y2="166.8" stroke="#444" stroke-width="0.7"/>
<line x1="58.5" y1="164.5" x2="58.5" y2="166.8" stroke="#444" stroke-width="0.7"/>
<line x1="60.5" y1="164.5" x2="60.5" y2="166.8" stroke="#444" stroke-width="0.7"/>
<line x1="62.5" y1="164.5" x2="62.5" y2="166.8" stroke="#444" stroke-width="0.7"/>
<line x1="64.5" y1="164.5" x2="64.5" y2="166.8" stroke="#444" stroke-width="0.7"/>
<line x1="66.5" y1="164.5" x2="66.5" y2="166.8" stroke="#444" stroke-width="0.7"/>
<line x1="68.5" y1="164.5" x2="68.5" y2="166.8" stroke="#444" stroke-width="0.7"/>
<line x1="70.5" y1="164.5" x2="70.5" y2="166.8" stroke="#444" stroke-width="0.7"/>
<line x1="72.5" y1="164.5" x2="72.5" y2="166.8" stroke="#444" stroke-width="0.7"/>
<line x1="74.5" y1="164.5" x2="74.5" y2="166.8" stroke="#444" stroke-width="0.7"/>
<line x1="76.5" y1="164.5" x2="76.5" y2="166.8" stroke="#444" stroke-width="0.7"/>
<line x1="78.5" y1="164.5" x2="78.5" y2="166.8" stroke="#444" stroke-width="0.7"/>
<line x1="80.5" y1="164.5" x2="80.5" y2="166.8" stroke="#444" stroke-width="0.7"/>
<line x1="82.5" y1="164.5" x2="82.5" y2="166.8" stroke="#444" stroke-width="0.7"/>
<line x1="84.5" y1="164.5" x2="84.5" y2="166.8" stroke="#444" stroke-width="0.7"/>
<text x="37.328" y="170.70000000000002" font-size="4.8" font-weight="normal" text-anchor="middle" fill="#555" stroke="#666" stroke-width="0.3">0 10<tspan dy="-2.2" font-size="3.4">2</tspan></text>
<text x="54.254400000000004" y="170.70000000000002" font-size="4.8" font-weight="normal" text-anchor="middle" fill="#555" stroke="#666" stroke-width="0.3">10<tspan dy="-2.2" font-size="3.4">3</tspan></text>
<text x="66.8896" y="170.70000000000002" font-size="4.8" font-weight="normal" text-anchor="middle" fill="#555" stroke="#666" stroke-width="0.3">10<tspan dy="-2.2" font-size="3.4">4</tspan></text>
<text x="80.0016" y="170.70000000000002" font-size="4.8" font-weight="normal" text-anchor="middle" fill="#555" stroke="#666" stroke-width="0.3">10<tspan dy="-2.2" font-size="3.4">5</tspan></text>
<line x1="110.0" y1="108.2" x2="110.0" y2="164.3" stroke="#eeeeee" stroke-width="0.8"/>
<line x1="124.0" y1="108.2" x2="124.0" y2="164.3" stroke="#eeeeee" stroke-width="0.8"/>
<line x1="137.9" y1="108.2" x2="137.9" y2="164.3" stroke="#eeeeee" stroke-width="0.8"/>
<line x1="149.8" y1="108.2" x2="149.8" y2="164.3" stroke="#eeeeee" stroke-width="0.8"/>
<line x1="96.1" y1="114.1" x2="155.4" y2="114.1" stroke="#eeeeee" stroke-width="0.8"/>
<line x1="96.1" y1="129.2" x2="155.4" y2="129.2" stroke="#eeeeee" stroke-width="0.8"/>
<line x1="96.1" y1="144.9" x2="155.4" y2="144.9" stroke="#eeeeee" stroke-width="0.8"/>
<line x1="96.1" y1="155.3" x2="155.4" y2="155.3" stroke="#eeeeee" stroke-width="0.8"/>
<ellipse cx="129.7" cy="134.6" rx="5.0" ry="4.0" fill="#eee" stroke="#999" stroke-width="0.5" />
<ellipse cx="129.7" cy="134.6" rx="3.0" ry="2.4" fill="#ddd" stroke="#999" stroke-width="0.5" />
<ellipse cx="110.0" cy="136.5" rx="10.0" ry="6.7" fill="#a8a8a8" stroke="#555" stroke-width="0.4" />
<ellipse cx="110.0" cy="136.5" rx="8.0" ry="5.36" fill="#888" stroke="#555" stroke-width="0.4" />
<ellipse cx="110.0" cy="136.5" rx="6.0" ry="4.02" fill="#555" stroke="#555" stroke-width="0.4" />
<ellipse cx="110.0" cy="136.5" rx="4.0" ry="2.68" fill="#2a2a2a" stroke="#555" stroke-width="0.4" />
<ellipse cx="110.0" cy="136.5" rx="2.0" ry="1.34" fill="#111" stroke="#555" stroke-width="0.4" />
<ellipse cx="134.3" cy="144.5" rx="5.0" ry="2.6" fill="#d0d0d0" stroke="#888" stroke-width="0.6" />
<ellipse cx="134.3" cy="144.5" rx="3.0" ry="1.56" fill="#bbb" stroke="#888" stroke-width="0.6" />
<rect x="97.5" y="127.5" width="25.0" height="17.0" fill="none" stroke="#1a1a1a" stroke-width="1.0"/>
<rect x="127.5" y="139.5" width="15.0" height="13.0" fill="none" stroke="#1a1a1a" stroke-width="1.0"/>
<rect x="96.5" y="108.5" width="59.0" height="56.0" fill="none" stroke="#333" stroke-width="1.0"/>
<text x="102.80000000000001" y="126" font-size="6.9" font-weight="bold" text-anchor="start" fill="#000" letter-spacing="-0.3" stroke="#000" stroke-width="0.1">88.6</text>
<text x="136.20000000000002" y="162" font-size="6.9" font-weight="bold" text-anchor="start" fill="#000" letter-spacing="-0.3" stroke="#000" stroke-width="0.1">5.24</text>
<line x1="96.1" y1="164.5" x2="155.4" y2="164.5" stroke="#1a1a1a" stroke-width="1.5"/>
<line x1="98.5" y1="164.5" x2="98.5" y2="166.8" stroke="#444" stroke-width="0.7"/>
<line x1="100.5" y1="164.5" x2="100.5" y2="166.8" stroke="#444" stroke-width="0.7"/>
<line x1="102.5" y1="164.5" x2="102.5" y2="166.8" stroke="#444" stroke-width="0.7"/>
<line x1="104.5" y1="164.5" x2="104.5" y2="166.8" stroke="#444" stroke-width="0.7"/>
<line x1="106.5" y1="164.5" x2="106.5" y2="166.8" stroke="#444" stroke-width="0.7"/>
<line x1="108.5" y1="164.5" x2="108.5" y2="166.8" stroke="#444" stroke-width="0.7"/>
<line x1="110.5" y1="164.5" x2="110.5" y2="166.8" stroke="#444" stroke-width="0.7"/>
<line x1="112.5" y1="164.5" x2="112.5" y2="166.8" stroke="#444" stroke-width="0.7"/>
<line x1="114.5" y1="164.5" x2="114.5" y2="166.8" stroke="#444" stroke-width="0.7"/>
<line x1="116.5" y1="164.5" x2="116.5" y2="166.8" stroke="#444" stroke-width="0.7"/>
<line x1="118.5" y1="164.5" x2="118.5" y2="166.8" stroke="#444" stroke-width="0.7"/>
<line x1="120.5" y1="164.5" x2="120.5" y2="166.8" stroke="#444" stroke-width="0.7"/>
<line x1="122.5" y1="164.5" x2="122.5" y2="166.8" stroke="#444" stroke-width="0.7"/>
<line x1="124.5" y1="164.5" x2="124.5" y2="166.8" stroke="#444" stroke-width="0.7"/>
<line x1="126.5" y1="164.5" x2="126.5" y2="166.8" stroke="#444" stroke-width="0.7"/>
<line x1="128.5" y1="164.5" x2="128.5" y2="166.8" stroke="#444" stroke-width="0.7"/>
<line x1="130.5" y1="164.5" x2="130.5" y2="166.8" stroke="#444" stroke-width="0.7"/>
<line x1="132.5" y1="164.5" x2="132.5" y2="166.8" stroke="#444" stroke-width="0.7"/>
<line x1="134.5" y1="164.5" x2="134.5" y2="166.8" stroke="#444" stroke-width="0.7"/>
<line x1="136.5" y1="164.5" x2="136.5" y2="166.8" stroke="#444" stroke-width="0.7"/>
<line x1="138.5" y1="164.5" x2="138.5" y2="166.8" stroke="#444" stroke-width="0.7"/>
<line x1="140.5" y1="164.5" x2="140.5" y2="166.8" stroke="#444" stroke-width="0.7"/>
<line x1="142.5" y1="164.5" x2="142.5" y2="166.8" stroke="#444" stroke-width="0.7"/>
<line x1="144.5" y1="164.5" x2="144.5" y2="166.8" stroke="#444" stroke-width="0.7"/>
<line x1="146.5" y1="164.5" x2="146.5" y2="166.8" stroke="#444" stroke-width="0.7"/>
<line x1="148.5" y1="164.5" x2="148.5" y2="166.8" stroke="#444" stroke-width="0.7"/>
<line x1="150.5" y1="164.5" x2="150.5" y2="166.8" stroke="#444" stroke-width="0.7"/>
<line x1="152.5" y1="164.5" x2="152.5" y2="166.8" stroke="#444" stroke-width="0.7"/>
<line x1="154.5" y1="164.5" x2="154.5" y2="166.8" stroke="#444" stroke-width="0.7"/>
<text x="106.774" y="170.70000000000002" font-size="4.8" font-weight="normal" text-anchor="middle" fill="#555" stroke="#666" stroke-width="0.3">0 10<tspan dy="-2.2" font-size="3.4">2</tspan></text>
<text x="123.6152" y="170.70000000000002" font-size="4.8" font-weight="normal" text-anchor="middle" fill="#555" stroke="#666" stroke-width="0.3">10<tspan dy="-2.2" font-size="3.4">3</tspan></text>
<text x="136.1868" y="170.70000000000002" font-size="4.8" font-weight="normal" text-anchor="middle" fill="#555" stroke="#666" stroke-width="0.3">10<tspan dy="-2.2" font-size="3.4">4</tspan></text>
<text x="149.2328" y="170.70000000000002" font-size="4.8" font-weight="normal" text-anchor="middle" fill="#555" stroke="#666" stroke-width="0.3">10<tspan dy="-2.2" font-size="3.4">5</tspan></text>
<line x1="179.0" y1="108.2" x2="179.0" y2="164.3" stroke="#eeeeee" stroke-width="0.8"/>
<line x1="192.9" y1="108.2" x2="192.9" y2="164.3" stroke="#eeeeee" stroke-width="0.8"/>
<line x1="206.9" y1="108.2" x2="206.9" y2="164.3" stroke="#eeeeee" stroke-width="0.8"/>
<line x1="218.8" y1="108.2" x2="218.8" y2="164.3" stroke="#eeeeee" stroke-width="0.8"/>
<line x1="165.0" y1="114.1" x2="224.4" y2="114.1" stroke="#eeeeee" stroke-width="0.8"/>
<line x1="165.0" y1="129.2" x2="224.4" y2="129.2" stroke="#eeeeee" stroke-width="0.8"/>
<line x1="165.0" y1="144.9" x2="224.4" y2="144.9" stroke="#eeeeee" stroke-width="0.8"/>
<line x1="165.0" y1="155.3" x2="224.4" y2="155.3" stroke="#eeeeee" stroke-width="0.8"/>
<circle cx="179.2" cy="133.8" r="0.4" fill="#999"/>
<circle cx="188.8" cy="137.3" r="0.4" fill="#999"/>
<circle cx="189.7" cy="133.2" r="0.4" fill="#999"/>
<circle cx="185.8" cy="132.0" r="0.4" fill="#999"/>
<circle cx="178.1" cy="131.4" r="0.4" fill="#999"/>
<circle cx="188.8" cy="133.9" r="0.4" fill="#999"/>
<circle cx="182.5" cy="129.1" r="0.4" fill="#999"/>
<circle cx="183.5" cy="130.7" r="0.4" fill="#999"/>
<circle cx="184.2" cy="135.0" r="0.4" fill="#999"/>
<circle cx="176.3" cy="132.8" r="0.4" fill="#999"/>
<circle cx="178.1" cy="130.2" r="0.4" fill="#999"/>
<circle cx="178.9" cy="136.5" r="0.4" fill="#999"/>
<circle cx="187.5" cy="134.9" r="0.4" fill="#999"/>
<circle cx="180.9" cy="128.5" r="0.4" fill="#999"/>
<circle cx="181.9" cy="133.8" r="0.4" fill="#999"/>
<circle cx="183.6" cy="135.7" r="0.4" fill="#999"/>
<circle cx="182.6" cy="138.3" r="0.4" fill="#999"/>
<circle cx="186.4" cy="138.4" r="0.4" fill="#999"/>
<circle cx="185.4" cy="132.0" r="0.4" fill="#999"/>
<circle cx="179.9" cy="135.9" r="0.4" fill="#999"/>
<circle cx="189.2" cy="133.6" r="0.4" fill="#999"/>
<circle cx="186.2" cy="131.9" r="0.4" fill="#999"/>
<circle cx="181.7" cy="131.8" r="0.4" fill="#999"/>
<circle cx="177.3" cy="130.3" r="0.4" fill="#999"/>
<circle cx="184.2" cy="133.5" r="0.4" fill="#999"/>
<ellipse cx="181.0" cy="133.3" rx="9.8" ry="5.8" fill="#c8c8c8" stroke="none" stroke-width="0.6" />
<ellipse cx="177.5" cy="134.5" rx="6.2" ry="4.4" fill="#777" stroke="#444" stroke-width="0.4" />
<ellipse cx="177.5" cy="134.5" rx="4.65" ry="3.3" fill="#333" stroke="#444" stroke-width="0.4" />
<ellipse cx="177.5" cy="134.5" rx="3.1" ry="2.2" fill="#111" stroke="#444" stroke-width="0.4" />
<ellipse cx="177.3" cy="134.8" rx="1.3" ry="0.8" fill="#999" stroke="none" stroke-width="0.6" />
<path d="M192,133 C195,131 197,133 199,131" fill="none" stroke="#bbb" stroke-width="0.6" stroke-dasharray="0.6 1.0"/>
<ellipse cx="205.3" cy="145.0" rx="4.4" ry="3.2" fill="#888" stroke="none" stroke-width="0.6" />
<ellipse cx="205.3" cy="145.0" rx="3.4" ry="2.4" fill="#1a1a1a" stroke="none" stroke-width="0.6" />
<rect x="167.5" y="123.5" width="25.0" height="18.0" fill="none" stroke="#1a1a1a" stroke-width="1.0"/>
<rect x="198.5" y="139.5" width="17.0" height="12.0" fill="none" stroke="#1a1a1a" stroke-width="1.0"/>
<rect x="165.5" y="108.5" width="59.0" height="56.0" fill="none" stroke="#333" stroke-width="1.0"/>
<text x="171.70000000000002" y="122" font-size="6.9" font-weight="bold" text-anchor="start" fill="#000" letter-spacing="-0.3" stroke="#000" stroke-width="0.1">91.6</text>
<text x="204.8" y="160" font-size="6.9" font-weight="bold" text-anchor="start" fill="#000" letter-spacing="-0.3" stroke="#000" stroke-width="0.1">8.11</text>
<line x1="165.0" y1="164.5" x2="224.4" y2="164.5" stroke="#1a1a1a" stroke-width="1.5"/>
<line x1="167.5" y1="164.5" x2="167.5" y2="166.8" stroke="#444" stroke-width="0.7"/>
<line x1="169.5" y1="164.5" x2="169.5" y2="166.8" stroke="#444" stroke-width="0.7"/>
<line x1="171.5" y1="164.5" x2="171.5" y2="166.8" stroke="#444" stroke-width="0.7"/>
<line x1="173.5" y1="164.5" x2="173.5" y2="166.8" stroke="#444" stroke-width="0.7"/>
<line x1="175.5" y1="164.5" x2="175.5" y2="166.8" stroke="#444" stroke-width="0.7"/>
<line x1="177.5" y1="164.5" x2="177.5" y2="166.8" stroke="#444" stroke-width="0.7"/>
<line x1="179.5" y1="164.5" x2="179.5" y2="166.8" stroke="#444" stroke-width="0.7"/>
<line x1="181.5" y1="164.5" x2="181.5" y2="166.8" stroke="#444" stroke-width="0.7"/>
<line x1="183.5" y1="164.5" x2="183.5" y2="166.8" stroke="#444" stroke-width="0.7"/>
<line x1="185.5" y1="164.5" x2="185.5" y2="166.8" stroke="#444" stroke-width="0.7"/>
<line x1="187.5" y1="164.5" x2="187.5" y2="166.8" stroke="#444" stroke-width="0.7"/>
<line x1="189.5" y1="164.5" x2="189.5" y2="166.8" stroke="#444" stroke-width="0.7"/>
<line x1="191.5" y1="164.5" x2="191.5" y2="166.8" stroke="#444" stroke-width="0.7"/>
<line x1="193.5" y1="164.5" x2="193.5" y2="166.8" stroke="#444" stroke-width="0.7"/>
<line x1="195.5" y1="164.5" x2="195.5" y2="166.8" stroke="#444" stroke-width="0.7"/>
<line x1="197.5" y1="164.5" x2="197.5" y2="166.8" stroke="#444" stroke-width="0.7"/>
<line x1="199.5" y1="164.5" x2="199.5" y2="166.8" stroke="#444" stroke-width="0.7"/>
<line x1="201.5" y1="164.5" x2="201.5" y2="166.8" stroke="#444" stroke-width="0.7"/>
<line x1="203.5" y1="164.5" x2="203.5" y2="166.8" stroke="#444" stroke-width="0.7"/>
<line x1="205.5" y1="164.5" x2="205.5" y2="166.8" stroke="#444" stroke-width="0.7"/>
<line x1="207.5" y1="164.5" x2="207.5" y2="166.8" stroke="#444" stroke-width="0.7"/>
<line x1="209.5" y1="164.5" x2="209.5" y2="166.8" stroke="#444" stroke-width="0.7"/>
<line x1="211.5" y1="164.5" x2="211.5" y2="166.8" stroke="#444" stroke-width="0.7"/>
<line x1="213.5" y1="164.5" x2="213.5" y2="166.8" stroke="#444" stroke-width="0.7"/>
<line x1="215.5" y1="164.5" x2="215.5" y2="166.8" stroke="#444" stroke-width="0.7"/>
<line x1="217.5" y1="164.5" x2="217.5" y2="166.8" stroke="#444" stroke-width="0.7"/>
<line x1="219.5" y1="164.5" x2="219.5" y2="166.8" stroke="#444" stroke-width="0.7"/>
<line x1="221.5" y1="164.5" x2="221.5" y2="166.8" stroke="#444" stroke-width="0.7"/>
<line x1="223.5" y1="164.5" x2="223.5" y2="166.8" stroke="#444" stroke-width="0.7"/>
<text x="175.692" y="170.70000000000002" font-size="4.8" font-weight="normal" text-anchor="middle" fill="#555" stroke="#666" stroke-width="0.3">0 10<tspan dy="-2.2" font-size="3.4">2</tspan></text>
<text x="192.5616" y="170.70000000000002" font-size="4.8" font-weight="normal" text-anchor="middle" fill="#555" stroke="#666" stroke-width="0.3">10<tspan dy="-2.2" font-size="3.4">3</tspan></text>
<text x="205.1544" y="170.70000000000002" font-size="4.8" font-weight="normal" text-anchor="middle" fill="#555" stroke="#666" stroke-width="0.3">10<tspan dy="-2.2" font-size="3.4">4</tspan></text>
<text x="218.2224" y="170.70000000000002" font-size="4.8" font-weight="normal" text-anchor="middle" fill="#555" stroke="#666" stroke-width="0.3">10<tspan dy="-2.2" font-size="3.4">5</tspan></text>
<line x1="263.6" y1="107.2" x2="263.6" y2="164.3" stroke="#eeeeee" stroke-width="0.8"/>
<line x1="277.5" y1="107.2" x2="277.5" y2="164.3" stroke="#eeeeee" stroke-width="0.8"/>
<line x1="291.5" y1="107.2" x2="291.5" y2="164.3" stroke="#eeeeee" stroke-width="0.8"/>
<line x1="303.4" y1="107.2" x2="303.4" y2="164.3" stroke="#eeeeee" stroke-width="0.8"/>
<line x1="249.6" y1="113.2" x2="309.0" y2="113.2" stroke="#eeeeee" stroke-width="0.8"/>
<line x1="249.6" y1="128.6" x2="309.0" y2="128.6" stroke="#eeeeee" stroke-width="0.8"/>
<line x1="249.6" y1="144.6" x2="309.0" y2="144.6" stroke="#eeeeee" stroke-width="0.8"/>
<line x1="249.6" y1="155.2" x2="309.0" y2="155.2" stroke="#eeeeee" stroke-width="0.8"/>
<ellipse cx="262.5" cy="135.8" rx="10.2" ry="6.9" fill="#eee" stroke="#555" stroke-width="0.4" transform="rotate(-20 262.5 135.8)" />
<ellipse cx="262.5" cy="135.8" rx="8.16" ry="5.52" fill="#c8c8c8" stroke="#555" stroke-width="0.4" transform="rotate(-20 262.5 135.8)" />
<ellipse cx="262.5" cy="135.8" rx="6.12" ry="4.14" fill="#999" stroke="#555" stroke-width="0.4" transform="rotate(-20 262.5 135.8)" />
<ellipse cx="262.5" cy="135.8" rx="4.08" ry="2.76" fill="#7a7a7a" stroke="#555" stroke-width="0.4" transform="rotate(-20 262.5 135.8)" />
<ellipse cx="262.5" cy="135.8" rx="2.04" ry="1.38" fill="#666" stroke="#555" stroke-width="0.4" transform="rotate(-20 262.5 135.8)" />
<ellipse cx="285.8" cy="143.8" rx="5.5" ry="3.0999999999999996" fill="#777" stroke="none" stroke-width="0.6" />
<ellipse cx="285.8" cy="143.8" rx="4.5" ry="2.3" fill="#0a0a0a" stroke="none" stroke-width="0.6" />
<ellipse cx="285.8" cy="143.8" rx="2.79" ry="1.265" fill="none" stroke="#999" stroke-width="0.45" />
<ellipse cx="284.54" cy="143.8" rx="0.9" ry="0.644" fill="none" stroke="#777" stroke-width="0.4" />
<ellipse cx="287.06" cy="143.8" rx="0.9" ry="0.644" fill="none" stroke="#777" stroke-width="0.4" />
<rect x="251.5" y="127.5" width="24.0" height="17.0" fill="none" stroke="#1a1a1a" stroke-width="1.0"/>
<rect x="278.5" y="139.5" width="18.0" height="11.0" fill="none" stroke="#1a1a1a" stroke-width="1.0"/>
<rect x="249.5" y="107.5" width="60.0" height="57.0" fill="none" stroke="#333" stroke-width="1.0"/>
<text x="258.4" y="127" font-size="6.9" font-weight="bold" text-anchor="start" fill="#000" letter-spacing="-0.3" stroke="#000" stroke-width="0.1">42</text>
<text x="290.7" y="159" font-size="6.9" font-weight="bold" text-anchor="start" fill="#000" letter-spacing="-0.3" stroke="#000" stroke-width="0.1">57.2</text>
<line x1="249.5" y1="107.2" x2="249.5" y2="164.3" stroke="#1a1a1a" stroke-width="1.5"/>
<line x1="247.7" y1="109.5" x2="249.5" y2="109.5" stroke="#444" stroke-width="0.7"/>
<line x1="247.7" y1="111.5" x2="249.5" y2="111.5" stroke="#444" stroke-width="0.7"/>
<line x1="247.7" y1="113.5" x2="249.5" y2="113.5" stroke="#444" stroke-width="0.7"/>
<line x1="247.7" y1="115.5" x2="249.5" y2="115.5" stroke="#444" stroke-width="0.7"/>
<line x1="247.7" y1="117.5" x2="249.5" y2="117.5" stroke="#444" stroke-width="0.7"/>
<line x1="247.7" y1="119.5" x2="249.5" y2="119.5" stroke="#444" stroke-width="0.7"/>
<line x1="247.7" y1="121.5" x2="249.5" y2="121.5" stroke="#444" stroke-width="0.7"/>
<line x1="247.7" y1="123.5" x2="249.5" y2="123.5" stroke="#444" stroke-width="0.7"/>
<line x1="247.7" y1="125.5" x2="249.5" y2="125.5" stroke="#444" stroke-width="0.7"/>
<line x1="247.7" y1="127.5" x2="249.5" y2="127.5" stroke="#444" stroke-width="0.7"/>
<line x1="247.7" y1="129.5" x2="249.5" y2="129.5" stroke="#444" stroke-width="0.7"/>
<line x1="247.7" y1="131.5" x2="249.5" y2="131.5" stroke="#444" stroke-width="0.7"/>
<line x1="247.7" y1="133.5" x2="249.5" y2="133.5" stroke="#444" stroke-width="0.7"/>
<line x1="247.7" y1="135.5" x2="249.5" y2="135.5" stroke="#444" stroke-width="0.7"/>
<line x1="247.7" y1="137.5" x2="249.5" y2="137.5" stroke="#444" stroke-width="0.7"/>
<line x1="247.7" y1="139.5" x2="249.5" y2="139.5" stroke="#444" stroke-width="0.7"/>
<line x1="247.7" y1="141.5" x2="249.5" y2="141.5" stroke="#444" stroke-width="0.7"/>
<line x1="247.7" y1="143.5" x2="249.5" y2="143.5" stroke="#444" stroke-width="0.7"/>
<line x1="247.7" y1="145.5" x2="249.5" y2="145.5" stroke="#444" stroke-width="0.7"/>
<line x1="247.7" y1="147.5" x2="249.5" y2="147.5" stroke="#444" stroke-width="0.7"/>
<line x1="247.7" y1="149.5" x2="249.5" y2="149.5" stroke="#444" stroke-width="0.7"/>
<line x1="247.7" y1="151.5" x2="249.5" y2="151.5" stroke="#444" stroke-width="0.7"/>
<line x1="247.7" y1="153.5" x2="249.5" y2="153.5" stroke="#444" stroke-width="0.7"/>
<line x1="247.7" y1="155.5" x2="249.5" y2="155.5" stroke="#444" stroke-width="0.7"/>
<line x1="247.7" y1="157.5" x2="249.5" y2="157.5" stroke="#444" stroke-width="0.7"/>
<line x1="247.7" y1="159.5" x2="249.5" y2="159.5" stroke="#444" stroke-width="0.7"/>
<line x1="247.7" y1="161.5" x2="249.5" y2="161.5" stroke="#444" stroke-width="0.7"/>
<line x1="247.7" y1="163.5" x2="249.5" y2="163.5" stroke="#444" stroke-width="0.7"/>
<text x="247.2" y="114.3958" font-size="4.4" font-weight="normal" text-anchor="end" fill="#777" stroke="#888" stroke-width="0.2">10<tspan dy="-2.2" font-size="3.4">5</tspan></text>
<text x="247.2" y="130.2125" font-size="4.4" font-weight="normal" text-anchor="end" fill="#777" stroke="#888" stroke-width="0.2">10<tspan dy="-2.2" font-size="3.4">4</tspan></text>
<text x="247.2" y="146.9428" font-size="4.4" font-weight="normal" text-anchor="end" fill="#777" stroke="#888" stroke-width="0.2">0</text>
<line x1="249.6" y1="164.5" x2="309.0" y2="164.5" stroke="#1a1a1a" stroke-width="1.5"/>
<line x1="251.5" y1="164.5" x2="251.5" y2="166.8" stroke="#444" stroke-width="0.7"/>
<line x1="253.5" y1="164.5" x2="253.5" y2="166.8" stroke="#444" stroke-width="0.7"/>
<line x1="255.5" y1="164.5" x2="255.5" y2="166.8" stroke="#444" stroke-width="0.7"/>
<line x1="257.5" y1="164.5" x2="257.5" y2="166.8" stroke="#444" stroke-width="0.7"/>
<line x1="259.5" y1="164.5" x2="259.5" y2="166.8" stroke="#444" stroke-width="0.7"/>
<line x1="261.5" y1="164.5" x2="261.5" y2="166.8" stroke="#444" stroke-width="0.7"/>
<line x1="263.5" y1="164.5" x2="263.5" y2="166.8" stroke="#444" stroke-width="0.7"/>
<line x1="265.5" y1="164.5" x2="265.5" y2="166.8" stroke="#444" stroke-width="0.7"/>
<line x1="267.5" y1="164.5" x2="267.5" y2="166.8" stroke="#444" stroke-width="0.7"/>
<line x1="269.5" y1="164.5" x2="269.5" y2="166.8" stroke="#444" stroke-width="0.7"/>
<line x1="271.5" y1="164.5" x2="271.5" y2="166.8" stroke="#444" stroke-width="0.7"/>
<line x1="273.5" y1="164.5" x2="273.5" y2="166.8" stroke="#444" stroke-width="0.7"/>
<line x1="275.5" y1="164.5" x2="275.5" y2="166.8" stroke="#444" stroke-width="0.7"/>
<line x1="277.5" y1="164.5" x2="277.5" y2="166.8" stroke="#444" stroke-width="0.7"/>
<line x1="279.5" y1="164.5" x2="279.5" y2="166.8" stroke="#444" stroke-width="0.7"/>
<line x1="281.5" y1="164.5" x2="281.5" y2="166.8" stroke="#444" stroke-width="0.7"/>
<line x1="283.5" y1="164.5" x2="283.5" y2="166.8" stroke="#444" stroke-width="0.7"/>
<line x1="285.5" y1="164.5" x2="285.5" y2="166.8" stroke="#444" stroke-width="0.7"/>
<line x1="287.5" y1="164.5" x2="287.5" y2="166.8" stroke="#444" stroke-width="0.7"/>
<line x1="289.5" y1="164.5" x2="289.5" y2="166.8" stroke="#444" stroke-width="0.7"/>
<line x1="291.5" y1="164.5" x2="291.5" y2="166.8" stroke="#444" stroke-width="0.7"/>
<line x1="293.5" y1="164.5" x2="293.5" y2="166.8" stroke="#444" stroke-width="0.7"/>
<line x1="295.5" y1="164.5" x2="295.5" y2="166.8" stroke="#444" stroke-width="0.7"/>
<line x1="297.5" y1="164.5" x2="297.5" y2="166.8" stroke="#444" stroke-width="0.7"/>
<line x1="299.5" y1="164.5" x2="299.5" y2="166.8" stroke="#444" stroke-width="0.7"/>
<line x1="301.5" y1="164.5" x2="301.5" y2="166.8" stroke="#444" stroke-width="0.7"/>
<line x1="303.5" y1="164.5" x2="303.5" y2="166.8" stroke="#444" stroke-width="0.7"/>
<line x1="305.5" y1="164.5" x2="305.5" y2="166.8" stroke="#444" stroke-width="0.7"/>
<line x1="307.5" y1="164.5" x2="307.5" y2="166.8" stroke="#444" stroke-width="0.7"/>
<text x="260.292" y="170.70000000000002" font-size="4.8" font-weight="normal" text-anchor="middle" fill="#555" stroke="#666" stroke-width="0.3">0 10<tspan dy="-2.2" font-size="3.4">2</tspan></text>
<text x="277.1616" y="170.70000000000002" font-size="4.8" font-weight="normal" text-anchor="middle" fill="#555" stroke="#666" stroke-width="0.3">10<tspan dy="-2.2" font-size="3.4">3</tspan></text>
<text x="289.75440000000003" y="170.70000000000002" font-size="4.8" font-weight="normal" text-anchor="middle" fill="#555" stroke="#666" stroke-width="0.3">10<tspan dy="-2.2" font-size="3.4">4</tspan></text>
<text x="302.8224" y="170.70000000000002" font-size="4.8" font-weight="normal" text-anchor="middle" fill="#555" stroke="#666" stroke-width="0.3">10<tspan dy="-2.2" font-size="3.4">5</tspan></text>
<line x1="332.6" y1="107.2" x2="332.6" y2="164.3" stroke="#eeeeee" stroke-width="0.8"/>
<line x1="346.7" y1="107.2" x2="346.7" y2="164.3" stroke="#eeeeee" stroke-width="0.8"/>
<line x1="360.9" y1="107.2" x2="360.9" y2="164.3" stroke="#eeeeee" stroke-width="0.8"/>
<line x1="372.9" y1="107.2" x2="372.9" y2="164.3" stroke="#eeeeee" stroke-width="0.8"/>
<line x1="318.5" y1="113.2" x2="378.6" y2="113.2" stroke="#eeeeee" stroke-width="0.8"/>
<line x1="318.5" y1="128.6" x2="378.6" y2="128.6" stroke="#eeeeee" stroke-width="0.8"/>
<line x1="318.5" y1="144.6" x2="378.6" y2="144.6" stroke="#eeeeee" stroke-width="0.8"/>
<line x1="318.5" y1="155.2" x2="378.6" y2="155.2" stroke="#eeeeee" stroke-width="0.8"/>
<ellipse cx="332.5" cy="135.8" rx="11.5" ry="7.0" fill="#d4d4d4" stroke="#555" stroke-width="0.4" transform="rotate(-22 332.5 135.8)" />
<ellipse cx="332.5" cy="135.8" rx="9.2" ry="5.6" fill="#aaa" stroke="#555" stroke-width="0.4" transform="rotate(-22 332.5 135.8)" />
<ellipse cx="332.5" cy="135.8" rx="6.9" ry="4.2" fill="#808080" stroke="#555" stroke-width="0.4" transform="rotate(-22 332.5 135.8)" />
<ellipse cx="332.5" cy="135.8" rx="4.6" ry="2.8" fill="#505050" stroke="#555" stroke-width="0.4" transform="rotate(-22 332.5 135.8)" />
<ellipse cx="332.5" cy="135.8" rx="2.3" ry="1.4" fill="#999" stroke="#555" stroke-width="0.4" transform="rotate(-22 332.5 135.8)" />
<path d="M351.5,140 C351,135 353.5,131.5 356,131.5 C358.5,131.5 360.5,135 360,140" fill="none" stroke="#666" stroke-width="0.7" />
<ellipse cx="358.5" cy="144.2" rx="6.0" ry="3.0" fill="#999" stroke="none" stroke-width="0.6" />
<ellipse cx="356.0" cy="144.2" rx="4.0" ry="2.3" fill="#111" stroke="none" stroke-width="0.6" />
<rect x="319.5" y="126.5" width="27.0" height="19.0" fill="none" stroke="#1a1a1a" stroke-width="1.0"/>
<rect x="348.5" y="140.5" width="18.0" height="10.0" fill="none" stroke="#1a1a1a" stroke-width="1.0"/>
<rect x="318.5" y="107.5" width="60.0" height="57.0" fill="none" stroke="#333" stroke-width="1.0"/>
<text x="323.7" y="124" font-size="6.9" font-weight="bold" text-anchor="start" fill="#000" letter-spacing="-0.3" stroke="#000" stroke-width="0.1">77.5</text>
<text x="358.5" y="160" font-size="6.9" font-weight="bold" text-anchor="start" fill="#000" letter-spacing="-0.3" stroke="#000" stroke-width="0.1">19.7</text>
<line x1="318.5" y1="164.5" x2="378.6" y2="164.5" stroke="#1a1a1a" stroke-width="1.5"/>
<line x1="320.5" y1="164.5" x2="320.5" y2="166.8" stroke="#444" stroke-width="0.7"/>
<line x1="322.5" y1="164.5" x2="322.5" y2="166.8" stroke="#444" stroke-width="0.7"/>
<line x1="324.5" y1="164.5" x2="324.5" y2="166.8" stroke="#444" stroke-width="0.7"/>
<line x1="326.5" y1="164.5" x2="326.5" y2="166.8" stroke="#444" stroke-width="0.7"/>
<line x1="328.5" y1="164.5" x2="328.5" y2="166.8" stroke="#444" stroke-width="0.7"/>
<line x1="330.5" y1="164.5" x2="330.5" y2="166.8" stroke="#444" stroke-width="0.7"/>
<line x1="332.5" y1="164.5" x2="332.5" y2="166.8" stroke="#444" stroke-width="0.7"/>
<line x1="334.5" y1="164.5" x2="334.5" y2="166.8" stroke="#444" stroke-width="0.7"/>
<line x1="336.5" y1="164.5" x2="336.5" y2="166.8" stroke="#444" stroke-width="0.7"/>
<line x1="338.5" y1="164.5" x2="338.5" y2="166.8" stroke="#444" stroke-width="0.7"/>
<line x1="340.5" y1="164.5" x2="340.5" y2="166.8" stroke="#444" stroke-width="0.7"/>
<line x1="342.5" y1="164.5" x2="342.5" y2="166.8" stroke="#444" stroke-width="0.7"/>
<line x1="344.5" y1="164.5" x2="344.5" y2="166.8" stroke="#444" stroke-width="0.7"/>
<line x1="346.5" y1="164.5" x2="346.5" y2="166.8" stroke="#444" stroke-width="0.7"/>
<line x1="348.5" y1="164.5" x2="348.5" y2="166.8" stroke="#444" stroke-width="0.7"/>
<line x1="350.5" y1="164.5" x2="350.5" y2="166.8" stroke="#444" stroke-width="0.7"/>
<line x1="352.5" y1="164.5" x2="352.5" y2="166.8" stroke="#444" stroke-width="0.7"/>
<line x1="354.5" y1="164.5" x2="354.5" y2="166.8" stroke="#444" stroke-width="0.7"/>
<line x1="356.5" y1="164.5" x2="356.5" y2="166.8" stroke="#444" stroke-width="0.7"/>
<line x1="358.5" y1="164.5" x2="358.5" y2="166.8" stroke="#444" stroke-width="0.7"/>
<line x1="360.5" y1="164.5" x2="360.5" y2="166.8" stroke="#444" stroke-width="0.7"/>
<line x1="362.5" y1="164.5" x2="362.5" y2="166.8" stroke="#444" stroke-width="0.7"/>
<line x1="364.5" y1="164.5" x2="364.5" y2="166.8" stroke="#444" stroke-width="0.7"/>
<line x1="366.5" y1="164.5" x2="366.5" y2="166.8" stroke="#444" stroke-width="0.7"/>
<line x1="368.5" y1="164.5" x2="368.5" y2="166.8" stroke="#444" stroke-width="0.7"/>
<line x1="370.5" y1="164.5" x2="370.5" y2="166.8" stroke="#444" stroke-width="0.7"/>
<line x1="372.5" y1="164.5" x2="372.5" y2="166.8" stroke="#444" stroke-width="0.7"/>
<line x1="374.5" y1="164.5" x2="374.5" y2="166.8" stroke="#444" stroke-width="0.7"/>
<line x1="376.5" y1="164.5" x2="376.5" y2="166.8" stroke="#444" stroke-width="0.7"/>
<text x="329.318" y="170.70000000000002" font-size="4.8" font-weight="normal" text-anchor="middle" fill="#555" stroke="#666" stroke-width="0.3">0 10<tspan dy="-2.2" font-size="3.4">2</tspan></text>
<text x="346.38640000000004" y="170.70000000000002" font-size="4.8" font-weight="normal" text-anchor="middle" fill="#555" stroke="#666" stroke-width="0.3">10<tspan dy="-2.2" font-size="3.4">3</tspan></text>
<text x="359.12760000000003" y="170.70000000000002" font-size="4.8" font-weight="normal" text-anchor="middle" fill="#555" stroke="#666" stroke-width="0.3">10<tspan dy="-2.2" font-size="3.4">4</tspan></text>
<text x="372.3496" y="170.70000000000002" font-size="4.8" font-weight="normal" text-anchor="middle" fill="#555" stroke="#666" stroke-width="0.3">10<tspan dy="-2.2" font-size="3.4">5</tspan></text>
<line x1="404.2" y1="107.2" x2="404.2" y2="164.3" stroke="#eeeeee" stroke-width="0.8"/>
<line x1="418.1" y1="107.2" x2="418.1" y2="164.3" stroke="#eeeeee" stroke-width="0.8"/>
<line x1="432.1" y1="107.2" x2="432.1" y2="164.3" stroke="#eeeeee" stroke-width="0.8"/>
<line x1="444.0" y1="107.2" x2="444.0" y2="164.3" stroke="#eeeeee" stroke-width="0.8"/>
<line x1="390.2" y1="113.2" x2="449.6" y2="113.2" stroke="#eeeeee" stroke-width="0.8"/>
<line x1="390.2" y1="128.6" x2="449.6" y2="128.6" stroke="#eeeeee" stroke-width="0.8"/>
<line x1="390.2" y1="144.6" x2="449.6" y2="144.6" stroke="#eeeeee" stroke-width="0.8"/>
<line x1="390.2" y1="155.2" x2="449.6" y2="155.2" stroke="#eeeeee" stroke-width="0.8"/>
<circle cx="395.0" cy="136.8" r="0.4" fill="#666"/>
<circle cx="413.5" cy="132.5" r="0.4" fill="#666"/>
<circle cx="394.3" cy="134.7" r="0.4" fill="#666"/>
<circle cx="409.0" cy="140.2" r="0.4" fill="#666"/>
<circle cx="396.5" cy="129.8" r="0.4" fill="#666"/>
<circle cx="411.4" cy="137.5" r="0.4" fill="#666"/>
<circle cx="415.6" cy="138.9" r="0.4" fill="#666"/>
<circle cx="404.0" cy="133.5" r="0.4" fill="#666"/>
<circle cx="418.7" cy="134.1" r="0.4" fill="#666"/>
<circle cx="398.8" cy="129.8" r="0.4" fill="#666"/>
<circle cx="405.9" cy="135.8" r="0.4" fill="#666"/>
<circle cx="401.6" cy="134.7" r="0.4" fill="#666"/>
<circle cx="407.5" cy="138.7" r="0.4" fill="#666"/>
<circle cx="414.4" cy="136.0" r="0.4" fill="#666"/>
<circle cx="393.0" cy="137.7" r="0.4" fill="#666"/>
<circle cx="393.9" cy="134.2" r="0.4" fill="#666"/>
<circle cx="393.6" cy="135.0" r="0.4" fill="#666"/>
<circle cx="397.9" cy="136.1" r="0.4" fill="#666"/>
<circle cx="419.0" cy="134.9" r="0.4" fill="#666"/>
<circle cx="411.3" cy="129.3" r="0.4" fill="#666"/>
<circle cx="402.3" cy="138.5" r="0.4" fill="#666"/>
<circle cx="404.1" cy="137.1" r="0.4" fill="#666"/>
<circle cx="405.9" cy="130.0" r="0.4" fill="#666"/>
<circle cx="410.0" cy="130.9" r="0.4" fill="#666"/>
<circle cx="417.4" cy="133.1" r="0.4" fill="#666"/>
<circle cx="411.4" cy="135.0" r="0.4" fill="#666"/>
<circle cx="413.1" cy="132.1" r="0.4" fill="#666"/>
<circle cx="413.8" cy="134.4" r="0.4" fill="#666"/>
<circle cx="415.0" cy="137.8" r="0.4" fill="#666"/>
<circle cx="406.3" cy="130.9" r="0.4" fill="#666"/>
<circle cx="411.9" cy="137.4" r="0.4" fill="#666"/>
<circle cx="416.9" cy="133.4" r="0.4" fill="#666"/>
<circle cx="410.1" cy="137.7" r="0.4" fill="#666"/>
<circle cx="407.8" cy="136.2" r="0.4" fill="#666"/>
<circle cx="406.7" cy="131.8" r="0.4" fill="#666"/>
<circle cx="396.3" cy="133.1" r="0.4" fill="#666"/>
<circle cx="409.4" cy="141.4" r="0.4" fill="#666"/>
<circle cx="412.6" cy="139.7" r="0.4" fill="#666"/>
<circle cx="411.8" cy="138.5" r="0.4" fill="#666"/>
<circle cx="406.7" cy="139.0" r="0.4" fill="#666"/>
<circle cx="417.3" cy="133.7" r="0.4" fill="#666"/>
<circle cx="400.6" cy="142.1" r="0.4" fill="#666"/>
<circle cx="407.1" cy="139.9" r="0.4" fill="#666"/>
<circle cx="411.8" cy="129.9" r="0.4" fill="#666"/>
<circle cx="416.2" cy="139.7" r="0.4" fill="#666"/>
<circle cx="406.6" cy="139.0" r="0.4" fill="#666"/>
<circle cx="406.1" cy="130.5" r="0.4" fill="#666"/>
<circle cx="403.9" cy="137.1" r="0.4" fill="#666"/>
<circle cx="414.0" cy="138.3" r="0.4" fill="#666"/>
<circle cx="405.5" cy="141.2" r="0.4" fill="#666"/>
<circle cx="398.5" cy="138.9" r="0.4" fill="#666"/>
<circle cx="414.4" cy="133.6" r="0.4" fill="#666"/>
<circle cx="393.4" cy="131.6" r="0.4" fill="#666"/>
<circle cx="407.3" cy="137.9" r="0.4" fill="#666"/>
<circle cx="415.6" cy="131.1" r="0.4" fill="#666"/>
<circle cx="405.0" cy="138.5" r="0.4" fill="#666"/>
<circle cx="404.1" cy="127.3" r="0.4" fill="#666"/>
<circle cx="409.5" cy="142.4" r="0.4" fill="#666"/>
<circle cx="413.0" cy="130.8" r="0.4" fill="#666"/>
<circle cx="401.0" cy="136.2" r="0.4" fill="#666"/>
<circle cx="418.3" cy="136.9" r="0.4" fill="#666"/>
<circle cx="405.9" cy="141.7" r="0.4" fill="#666"/>
<circle cx="404.4" cy="142.3" r="0.4" fill="#666"/>
<circle cx="398.8" cy="132.5" r="0.4" fill="#666"/>
<circle cx="410.4" cy="141.1" r="0.4" fill="#666"/>
<circle cx="411.1" cy="136.6" r="0.4" fill="#666"/>
<circle cx="393.0" cy="132.3" r="0.4" fill="#666"/>
<circle cx="399.4" cy="132.2" r="0.4" fill="#666"/>
<circle cx="410.5" cy="133.2" r="0.4" fill="#666"/>
<circle cx="412.2" cy="135.4" r="0.4" fill="#666"/>
<circle cx="419.2" cy="133.6" r="0.4" fill="#888"/>
<circle cx="422.9" cy="131.4" r="0.4" fill="#888"/>
<circle cx="427.7" cy="133.2" r="0.4" fill="#888"/>
<circle cx="423.2" cy="137.4" r="0.4" fill="#888"/>
<circle cx="422.3" cy="129.4" r="0.4" fill="#888"/>
<circle cx="419.4" cy="131.5" r="0.4" fill="#888"/>
<circle cx="426.4" cy="135.6" r="0.4" fill="#888"/>
<circle cx="427.0" cy="137.1" r="0.4" fill="#888"/>
<circle cx="429.1" cy="134.6" r="0.4" fill="#888"/>
<circle cx="428.4" cy="134.9" r="0.4" fill="#888"/>
<circle cx="422.0" cy="135.7" r="0.4" fill="#888"/>
<circle cx="424.4" cy="132.4" r="0.4" fill="#888"/>
<circle cx="429.3" cy="134.8" r="0.4" fill="#888"/>
<circle cx="422.2" cy="132.9" r="0.4" fill="#888"/>
<circle cx="429.8" cy="132.6" r="0.4" fill="#888"/>
<circle cx="427.0" cy="135.1" r="0.4" fill="#888"/>
<circle cx="426.2" cy="135.1" r="0.4" fill="#888"/>
<circle cx="422.2" cy="131.6" r="0.4" fill="#888"/>
<circle cx="423.6" cy="131.9" r="0.4" fill="#888"/>
<circle cx="426.6" cy="137.0" r="0.4" fill="#888"/>
<ellipse cx="402.0" cy="135.5" rx="8.9" ry="5.9" fill="#6a6a6a" stroke="#0a0a0a" stroke-width="1.5" />
<ellipse cx="402.0" cy="135.8" rx="6.0" ry="3.8" fill="#555" stroke="#222" stroke-width="0.4" />
<ellipse cx="402.0" cy="135.8" rx="3.6" ry="2.28" fill="#333" stroke="#222" stroke-width="0.4" />
<path d="M429.8,133 L429.8,142" fill="none" stroke="#333" stroke-width="1.3" />
<ellipse cx="429.8" cy="143.4" rx="5.5" ry="2.5" fill="#777" stroke="none" stroke-width="0.6" />
<ellipse cx="429.8" cy="143.4" rx="4.2" ry="1.8" fill="#0a0a0a" stroke="none" stroke-width="0.6" />
<rect x="391.5" y="126.5" width="28.0" height="16.0" fill="none" stroke="#1a1a1a" stroke-width="1.0"/>
<rect x="421.5" y="140.5" width="18.0" height="10.0" fill="none" stroke="#1a1a1a" stroke-width="1.0"/>
<rect x="390.5" y="107.5" width="59.0" height="57.0" fill="none" stroke="#333" stroke-width="1.0"/>
<text x="395.09999999999997" y="124" font-size="6.9" font-weight="bold" text-anchor="start" fill="#000" letter-spacing="-0.3" stroke="#000" stroke-width="0.1">93.8</text>
<text x="430.4" y="159" font-size="6.9" font-weight="bold" text-anchor="start" fill="#000" letter-spacing="-0.3" stroke="#000" stroke-width="0.1">5.85</text>
<line x1="390.2" y1="164.5" x2="449.6" y2="164.5" stroke="#1a1a1a" stroke-width="1.5"/>
<line x1="392.5" y1="164.5" x2="392.5" y2="166.8" stroke="#444" stroke-width="0.7"/>
<line x1="394.5" y1="164.5" x2="394.5" y2="166.8" stroke="#444" stroke-width="0.7"/>
<line x1="396.5" y1="164.5" x2="396.5" y2="166.8" stroke="#444" stroke-width="0.7"/>
<line x1="398.5" y1="164.5" x2="398.5" y2="166.8" stroke="#444" stroke-width="0.7"/>
<line x1="400.5" y1="164.5" x2="400.5" y2="166.8" stroke="#444" stroke-width="0.7"/>
<line x1="402.5" y1="164.5" x2="402.5" y2="166.8" stroke="#444" stroke-width="0.7"/>
<line x1="404.5" y1="164.5" x2="404.5" y2="166.8" stroke="#444" stroke-width="0.7"/>
<line x1="406.5" y1="164.5" x2="406.5" y2="166.8" stroke="#444" stroke-width="0.7"/>
<line x1="408.5" y1="164.5" x2="408.5" y2="166.8" stroke="#444" stroke-width="0.7"/>
<line x1="410.5" y1="164.5" x2="410.5" y2="166.8" stroke="#444" stroke-width="0.7"/>
<line x1="412.5" y1="164.5" x2="412.5" y2="166.8" stroke="#444" stroke-width="0.7"/>
<line x1="414.5" y1="164.5" x2="414.5" y2="166.8" stroke="#444" stroke-width="0.7"/>
<line x1="416.5" y1="164.5" x2="416.5" y2="166.8" stroke="#444" stroke-width="0.7"/>
<line x1="418.5" y1="164.5" x2="418.5" y2="166.8" stroke="#444" stroke-width="0.7"/>
<line x1="420.5" y1="164.5" x2="420.5" y2="166.8" stroke="#444" stroke-width="0.7"/>
<line x1="422.5" y1="164.5" x2="422.5" y2="166.8" stroke="#444" stroke-width="0.7"/>
<line x1="424.5" y1="164.5" x2="424.5" y2="166.8" stroke="#444" stroke-width="0.7"/>
<line x1="426.5" y1="164.5" x2="426.5" y2="166.8" stroke="#444" stroke-width="0.7"/>
<line x1="428.5" y1="164.5" x2="428.5" y2="166.8" stroke="#444" stroke-width="0.7"/>
<line x1="430.5" y1="164.5" x2="430.5" y2="166.8" stroke="#444" stroke-width="0.7"/>
<line x1="432.5" y1="164.5" x2="432.5" y2="166.8" stroke="#444" stroke-width="0.7"/>
<line x1="434.5" y1="164.5" x2="434.5" y2="166.8" stroke="#444" stroke-width="0.7"/>
<line x1="436.5" y1="164.5" x2="436.5" y2="166.8" stroke="#444" stroke-width="0.7"/>
<line x1="438.5" y1="164.5" x2="438.5" y2="166.8" stroke="#444" stroke-width="0.7"/>
<line x1="440.5" y1="164.5" x2="440.5" y2="166.8" stroke="#444" stroke-width="0.7"/>
<line x1="442.5" y1="164.5" x2="442.5" y2="166.8" stroke="#444" stroke-width="0.7"/>
<line x1="444.5" y1="164.5" x2="444.5" y2="166.8" stroke="#444" stroke-width="0.7"/>
<line x1="446.5" y1="164.5" x2="446.5" y2="166.8" stroke="#444" stroke-width="0.7"/>
<line x1="448.5" y1="164.5" x2="448.5" y2="166.8" stroke="#444" stroke-width="0.7"/>
<text x="400.892" y="170.70000000000002" font-size="4.8" font-weight="normal" text-anchor="middle" fill="#555" stroke="#666" stroke-width="0.3">0 10<tspan dy="-2.2" font-size="3.4">2</tspan></text>
<text x="417.7616" y="170.70000000000002" font-size="4.8" font-weight="normal" text-anchor="middle" fill="#555" stroke="#666" stroke-width="0.3">10<tspan dy="-2.2" font-size="3.4">3</tspan></text>
<text x="430.3544" y="170.70000000000002" font-size="4.8" font-weight="normal" text-anchor="middle" fill="#555" stroke="#666" stroke-width="0.3">10<tspan dy="-2.2" font-size="3.4">4</tspan></text>
<text x="443.42240000000004" y="170.70000000000002" font-size="4.8" font-weight="normal" text-anchor="middle" fill="#555" stroke="#666" stroke-width="0.3">10<tspan dy="-2.2" font-size="3.4">5</tspan></text>
<text x="489" y="50.8" font-size="11.3" font-weight="bold" text-anchor="middle" fill="#000" >B6</text>
<text x="490.5" y="63.6" font-size="11.3" font-weight="bold" text-anchor="middle" fill="#000" >+</text>
<text x="461.6" y="77.7" font-size="11.1" font-weight="bold" text-anchor="start" fill="#000" >B6.Ly5<tspan dx="0.4" dy="-4.2" font-size="11">SJL</tspan></text>
<text x="487" y="121.5" font-size="11.3" font-weight="bold" text-anchor="middle" fill="#000" >B6.xid</text>
<text x="489" y="135.5" font-size="11.3" font-weight="bold" text-anchor="middle" fill="#000" >+</text>
<text x="458.6" y="148.6" font-size="11.1" font-weight="bold" text-anchor="start" fill="#000" >B6.Ly5<tspan dx="0.4" dy="-3.9" font-size="11">SJL</tspan></text>
<text transform="translate(13.3,151.8) rotate(-90)" font-size="10.2" font-weight="bold">Ly5<tspan dx="0.4" dy="-4.3" font-size="10.8">SJL</tspan></text>
<line x1="7.8" y1="166" x2="7.8" y2="185.4" stroke="#000" stroke-width="2"/>
<polygon points="3.8,167 12.3,167 8.05,153.8" fill="#000"/>
<line x1="6.8" y1="184.2" x2="26" y2="184.2" stroke="#000" stroke-width="2.2"/>
<polygon points="25.4,180 25.4,188.5 37.7,184.2" fill="#000"/>
<text x="40.5" y="191.5" font-size="11.3" font-weight="bold" text-anchor="start" fill="#000" >Ly5<tspan dx="1.2" dy="-5.2" font-size="11">B6</tspan></text>
<text transform="translate(0.8,218.8) scale(1.04,1)" font-size="18" font-weight="bold">B</text>
<line x1="43.4" y1="222.9" x2="208.6" y2="222.9" stroke="#8e8e8e" stroke-width="1.3"/>
<line x1="208.6" y1="222.9" x2="208.6" y2="333.3" stroke="#8e8e8e" stroke-width="1.2"/>
<text x="40.6" y="224.6" font-size="4.8" font-weight="bold" text-anchor="end" fill="#666" >3</text>
<line x1="41.9" y1="222.9" x2="43.4" y2="222.9" stroke="#777" stroke-width="0.6"/>
<text x="40.6" y="243.0" font-size="4.8" font-weight="bold" text-anchor="end" fill="#666" >2.5</text>
<line x1="41.9" y1="241.3" x2="43.4" y2="241.3" stroke="#777" stroke-width="0.6"/>
<text x="40.6" y="261.4" font-size="4.8" font-weight="bold" text-anchor="end" fill="#666" >2</text>
<line x1="41.9" y1="259.7" x2="43.4" y2="259.7" stroke="#777" stroke-width="0.6"/>
<text x="40.6" y="279.8" font-size="4.8" font-weight="bold" text-anchor="end" fill="#666" >1.5</text>
<line x1="41.9" y1="278.1" x2="43.4" y2="278.1" stroke="#777" stroke-width="0.6"/>
<text x="40.6" y="298.2" font-size="4.8" font-weight="bold" text-anchor="end" fill="#666" >1</text>
<line x1="41.9" y1="296.5" x2="43.4" y2="296.5" stroke="#777" stroke-width="0.6"/>
<text x="40.6" y="316.6" font-size="4.8" font-weight="bold" text-anchor="end" fill="#666" >0.5</text>
<line x1="41.9" y1="314.9" x2="43.4" y2="314.9" stroke="#777" stroke-width="0.6"/>
<text x="40.6" y="335.0" font-size="4.8" font-weight="bold" text-anchor="end" fill="#666" >0</text>
<line x1="41.9" y1="333.3" x2="43.4" y2="333.3" stroke="#777" stroke-width="0.6"/>
<text transform="translate(26.4,312.8) rotate(-90)" font-size="10.5" font-weight="bold">Ly5<tspan dy="-4" font-size="10">B6</tspan><tspan dy="4"> / Ly5</tspan><tspan dy="-4" font-size="10">SJL</tspan></text>
<defs><pattern id="hB" patternUnits="userSpaceOnUse" width="7.3" height="7.3" x="58.4" y="306.5"><rect width="7.3" height="7.3" fill="#fff"/><path d="M0,0 L7.3,7.3 M7.3,0 L0,7.3 M6.3,-1 L8.3,1 M-1,6.3 L1,8.3 M-1,1 L1,-1 M6.3,8.3 L8.3,6.3" stroke="#1a1a1a" stroke-width="0.9"/></pattern></defs>
<defs><pattern id="hC" patternUnits="userSpaceOnUse" width="7.2" height="7.2" x="339.4" y="302.9"><rect width="7.2" height="7.2" fill="#fff"/><path d="M0,0 L7.2,7.2 M7.2,0 L0,7.2 M6.2,-1 L8.2,1 M-1,6.2 L1,8.2 M-1,1 L1,-1 M6.2,8.2 L8.2,6.2" stroke="#1a1a1a" stroke-width="0.9"/></pattern></defs>
<rect x="48.4" y="287.6" width="6.2" height="45.7" fill="#c6c6c6" stroke="#a0a0a0" stroke-width="0.6"/>
<rect x="54.60" y="284.60" width="6.20" height="48.70" fill="url(#hB)" stroke="#999" stroke-width="0.5"/>
<rect x="66.3" y="279.1" width="6.2" height="54.2" fill="#c6c6c6" stroke="#a0a0a0" stroke-width="0.6"/>
<rect x="72.50" y="293.00" width="6.20" height="40.30" fill="url(#hB)" stroke="#999" stroke-width="0.5"/>
<rect x="84.0" y="281.1" width="6.2" height="52.2" fill="#c6c6c6" stroke="#a0a0a0" stroke-width="0.6"/>
<rect x="90.20" y="289.80" width="6.20" height="43.50" fill="url(#hB)" stroke="#999" stroke-width="0.5"/>
<rect x="102.1" y="289.2" width="6.2" height="44.1" fill="#c6c6c6" stroke="#a0a0a0" stroke-width="0.6"/>
<rect x="108.30" y="287.10" width="6.20" height="46.20" fill="url(#hB)" stroke="#999" stroke-width="0.5"/>
<rect x="120.3" y="280.2" width="6.2" height="53.1" fill="#c6c6c6" stroke="#a0a0a0" stroke-width="0.6"/>
<rect x="126.50" y="331.50" width="6.20" height="1.80" fill="url(#hB)" stroke="#999" stroke-width="0.5"/>
<rect x="138.2" y="262.2" width="6.2" height="71.1" fill="#c6c6c6" stroke="#a0a0a0" stroke-width="0.6"/>
<rect x="144.40" y="331.50" width="6.20" height="1.80" fill="url(#hB)" stroke="#999" stroke-width="0.5"/>
<rect x="156.3" y="257.3" width="6.2" height="76.0" fill="#c6c6c6" stroke="#a0a0a0" stroke-width="0.6"/>
<rect x="162.50" y="273.60" width="6.20" height="59.70" fill="url(#hB)" stroke="#999" stroke-width="0.5"/>
<rect x="174.4" y="264.3" width="6.2" height="69.0" fill="#c6c6c6" stroke="#a0a0a0" stroke-width="0.6"/>
<rect x="180.60" y="327.00" width="6.20" height="6.30" fill="url(#hB)" stroke="#999" stroke-width="0.5"/>
<rect x="192.3" y="275.3" width="6.2" height="58.0" fill="#c6c6c6" stroke="#a0a0a0" stroke-width="0.6"/>
<rect x="198.50" y="331.50" width="6.20" height="1.80" fill="url(#hB)" stroke="#999" stroke-width="0.5"/>
<path d="M51.5,269.1 L53.6,271.2 L51.5,273.3 L49.4,271.2Z" fill="#000"/>
<path d="M51.5,274.1 L53.6,276.2 L51.5,278.3 L49.4,276.2Z" fill="#000"/>
<path d="M51.5,281.0 L53.6,283.1 L51.5,285.2 L49.4,283.1Z" fill="#000"/>
<path d="M51.5,290.9 L53.6,293.0 L51.5,295.1 L49.4,293.0Z" fill="#000"/>
<path d="M51.5,304.7 L53.6,306.8 L51.5,308.9 L49.4,306.8Z" fill="#000"/>
<path d="M57.7,252.2 L59.4,253.9 L57.7,255.6 L56.1,253.9Z" fill="#fff" stroke="#000" stroke-width="0.9"/>
<path d="M57.7,284.1 L59.4,285.7 L57.7,287.3 L56.1,285.7Z" fill="#fff" stroke="#000" stroke-width="0.9"/>
<path d="M57.7,287.0 L59.4,288.6 L57.7,290.2 L56.1,288.6Z" fill="#fff" stroke="#000" stroke-width="0.9"/>
<path d="M57.7,289.4 L59.4,291.0 L57.7,292.6 L56.1,291.0Z" fill="#fff" stroke="#000" stroke-width="0.9"/>
<path d="M57.7,294.6 L59.4,296.2 L57.7,297.8 L56.1,296.2Z" fill="#fff" stroke="#000" stroke-width="0.9"/>
<path d="M69.4,265.1 L71.5,267.2 L69.4,269.3 L67.3,267.2Z" fill="#000"/>
<path d="M69.4,269.1 L71.5,271.2 L69.4,273.3 L67.3,271.2Z" fill="#000"/>
<path d="M69.4,278.2 L71.5,280.3 L69.4,282.4 L67.3,280.3Z" fill="#000"/>
<path d="M69.4,283.3 L71.5,285.4 L69.4,287.5 L67.3,285.4Z" fill="#000"/>
<path d="M69.4,285.4 L71.5,287.5 L69.4,289.6 L67.3,287.5Z" fill="#000"/>
<path d="M75.6,255.5 L77.2,257.1 L75.6,258.8 L73.9,257.1Z" fill="#fff" stroke="#000" stroke-width="0.9"/>
<path d="M75.6,284.7 L77.2,286.3 L75.6,287.9 L73.9,286.3Z" fill="#fff" stroke="#000" stroke-width="0.9"/>
<path d="M75.6,287.6 L77.2,289.2 L75.6,290.8 L73.9,289.2Z" fill="#fff" stroke="#000" stroke-width="0.9"/>
<path d="M75.6,292.7 L77.2,294.3 L75.6,295.9 L73.9,294.3Z" fill="#fff" stroke="#000" stroke-width="0.9"/>
<path d="M75.6,314.8 L77.2,316.4 L75.6,318.0 L73.9,316.4Z" fill="#fff" stroke="#000" stroke-width="0.9"/>
<path d="M87.1,272.4 L89.2,274.5 L87.1,276.6 L85.0,274.5Z" fill="#000"/>
<path d="M87.1,277.3 L89.2,279.4 L87.1,281.5 L85.0,279.4Z" fill="#000"/>
<path d="M87.1,279.6 L89.2,281.7 L87.1,283.8 L85.0,281.7Z" fill="#000"/>
<path d="M87.1,281.9 L89.2,284.0 L87.1,286.1 L85.0,284.0Z" fill="#000"/>
<path d="M87.1,283.6 L89.2,285.7 L87.1,287.8 L85.0,285.7Z" fill="#000"/>
<path d="M93.3,267.1 L95.0,268.7 L93.3,270.3 L91.6,268.7Z" fill="#fff" stroke="#000" stroke-width="0.9"/>
<path d="M93.3,281.5 L95.0,283.1 L93.3,284.8 L91.6,283.1Z" fill="#fff" stroke="#000" stroke-width="0.9"/>
<path d="M93.3,289.4 L95.0,291.0 L93.3,292.6 L91.6,291.0Z" fill="#fff" stroke="#000" stroke-width="0.9"/>
<path d="M93.3,306.9 L95.0,308.5 L93.3,310.1 L91.6,308.5Z" fill="#fff" stroke="#000" stroke-width="0.9"/>
<path d="M105.2,275.5 L107.3,277.6 L105.2,279.7 L103.1,277.6Z" fill="#000"/>
<path d="M105.2,284.8 L107.3,286.9 L105.2,289.0 L103.1,286.9Z" fill="#000"/>
<path d="M105.2,295.1 L107.3,297.2 L105.2,299.3 L103.1,297.2Z" fill="#000"/>
<path d="M105.2,300.9 L107.3,303.0 L105.2,305.1 L103.1,303.0Z" fill="#000"/>
<path d="M111.4,268.7 L113.0,270.3 L111.4,271.9 L109.7,270.3Z" fill="#fff" stroke="#000" stroke-width="0.9"/>
<path d="M111.4,279.7 L113.0,281.3 L111.4,282.9 L109.7,281.3Z" fill="#fff" stroke="#000" stroke-width="0.9"/>
<path d="M111.4,291.0 L113.0,292.6 L111.4,294.2 L109.7,292.6Z" fill="#fff" stroke="#000" stroke-width="0.9"/>
<path d="M111.4,296.0 L113.0,297.6 L111.4,299.2 L109.7,297.6Z" fill="#fff" stroke="#000" stroke-width="0.9"/>
<path d="M123.4,260.7 L125.5,262.8 L123.4,264.9 L121.3,262.8Z" fill="#000"/>
<path d="M123.4,266.2 L125.5,268.3 L123.4,270.4 L121.3,268.3Z" fill="#000"/>
<path d="M123.4,275.2 L125.5,277.3 L123.4,279.4 L121.3,277.3Z" fill="#000"/>
<path d="M123.4,303.6 L125.5,305.7 L123.4,307.8 L121.3,305.7Z" fill="#000"/>
<path d="M129.6,327.4 L131.7,329.5 L129.6,331.6 L127.5,329.5Z" fill="#000"/>
<path d="M129.6,329.1 L131.7,331.2 L129.6,333.3 L127.5,331.2Z" fill="#000"/>
<path d="M141.3,252.5 L143.4,254.6 L141.3,256.7 L139.2,254.6Z" fill="#000"/>
<path d="M141.3,258.6 L143.4,260.7 L141.3,262.8 L139.2,260.7Z" fill="#000"/>
<path d="M141.3,266.2 L143.4,268.3 L141.3,270.4 L139.2,268.3Z" fill="#000"/>
<path d="M141.3,268.2 L143.4,270.3 L141.3,272.4 L139.2,270.3Z" fill="#000"/>
<path d="M141.3,270.2 L143.4,272.3 L141.3,274.4 L139.2,272.3Z" fill="#000"/>
<path d="M147.5,324.6 L149.2,326.2 L147.5,327.8 L145.8,326.2Z" fill="#fff" stroke="#000" stroke-width="0.9"/>
<path d="M147.5,327.2 L149.6,329.3 L147.5,331.4 L145.4,329.3Z" fill="#000"/>
<path d="M147.5,329.2 L149.6,331.3 L147.5,333.4 L145.4,331.3Z" fill="#000"/>
<path d="M159.4,223.3 L161.5,225.4 L159.4,227.5 L157.3,225.4Z" fill="#000"/>
<path d="M159.4,257.5 L161.5,259.6 L159.4,261.7 L157.3,259.6Z" fill="#000"/>
<path d="M159.4,259.3 L161.5,261.4 L159.4,263.5 L157.3,261.4Z" fill="#000"/>
<path d="M159.4,261.3 L161.5,263.4 L159.4,265.5 L157.3,263.4Z" fill="#000"/>
<path d="M159.4,267.4 L161.5,269.5 L159.4,271.6 L157.3,269.5Z" fill="#000"/>
<path d="M165.6,264.8 L167.3,266.4 L165.6,268.0 L164.0,266.4Z" fill="#fff" stroke="#000" stroke-width="0.9"/>
<path d="M165.6,272.5 L167.3,274.1 L165.6,275.8 L164.0,274.1Z" fill="#fff" stroke="#000" stroke-width="0.9"/>
<path d="M177.5,246.3 L179.6,248.4 L177.5,250.5 L175.4,248.4Z" fill="#000"/>
<path d="M177.5,256.1 L179.6,258.2 L177.5,260.3 L175.4,258.2Z" fill="#000"/>
<path d="M177.5,261.9 L179.6,264.0 L177.5,266.1 L175.4,264.0Z" fill="#000"/>
<path d="M177.5,285.4 L179.6,287.5 L177.5,289.6 L175.4,287.5Z" fill="#000"/>
<path d="M183.7,318.2 L185.4,319.8 L183.7,321.4 L182.1,319.8Z" fill="#fff" stroke="#000" stroke-width="0.9"/>
<path d="M183.7,323.1 L185.4,324.7 L183.7,326.3 L182.1,324.7Z" fill="#fff" stroke="#000" stroke-width="0.9"/>
<path d="M183.7,327.5 L185.4,329.1 L183.7,330.8 L182.1,329.1Z" fill="#fff" stroke="#000" stroke-width="0.9"/>
<path d="M183.7,330.1 L185.4,331.7 L183.7,333.3 L182.1,331.7Z" fill="#fff" stroke="#000" stroke-width="0.9"/>
<path d="M195.4,265.7 L197.5,267.8 L195.4,269.9 L193.3,267.8Z" fill="#000"/>
<path d="M195.4,267.4 L197.5,269.5 L195.4,271.6 L193.3,269.5Z" fill="#000"/>
<path d="M195.4,269.1 L197.5,271.2 L195.4,273.3 L193.3,271.2Z" fill="#000"/>
<path d="M195.4,276.1 L197.5,278.2 L195.4,280.3 L193.3,278.2Z" fill="#000"/>
<path d="M195.4,284.5 L197.5,286.6 L195.4,288.7 L193.3,286.6Z" fill="#000"/>
<path d="M201.6,326.2 L203.7,328.3 L201.6,330.4 L199.5,328.3Z" fill="#000"/>
<path d="M201.6,327.9 L203.7,330.0 L201.6,332.1 L199.5,330.0Z" fill="#000"/>
<path d="M201.6,329.4 L203.7,331.5 L201.6,333.6 L199.5,331.5Z" fill="#000"/>
<line x1="44.0" y1="222.9" x2="44.0" y2="333.3" stroke="#999" stroke-width="1.5"/>
<line x1="43.4" y1="333.4" x2="208.6" y2="333.4" stroke="#444" stroke-width="1.1"/>
<line x1="153.1" y1="222.9" x2="153.1" y2="333.3" stroke="#444" stroke-width="1.8"/>
<text transform="translate(49.2,342.5) rotate(45)" font-size="8.4" font-weight="bold" stroke="#000" stroke-width="0.2">HSCs</text>
<text transform="translate(68.0,342.5) rotate(45)" font-size="8.4" font-weight="bold" stroke="#000" stroke-width="0.2">pro-B</text>
<text transform="translate(86.1,342.5) rotate(45)" font-size="8.4" font-weight="bold" stroke="#000" stroke-width="0.2">pre-B</text>
<text transform="translate(103.0,342.5) rotate(45)" font-size="8.4" font-weight="bold" stroke="#000" stroke-width="0.2">E, CD23<tspan dy="-2.5" font-size="5">-</tspan></text>
<text transform="translate(122.1,342.5) rotate(45)" font-size="8.4" font-weight="bold" stroke="#000" stroke-width="0.2">E, CD23<tspan dy="-2.5" font-size="5">+</tspan></text>
<text transform="translate(140.0,342.5) rotate(45)" font-size="8.4" font-weight="bold" stroke="#000" stroke-width="0.2">F</text>
<text transform="translate(157.6,342.5) rotate(45)" font-size="8.4" font-weight="bold" stroke="#000" stroke-width="0.2">T1</text>
<text transform="translate(175.0,342.5) rotate(45)" font-size="8.4" font-weight="bold" stroke="#000" stroke-width="0.2">T2/T3</text>
<text transform="translate(195.8,342.5) rotate(45)" font-size="8.4" font-weight="bold" stroke="#000" stroke-width="0.2">FOL</text>
<line x1="47.2" y1="372.8" x2="149.6" y2="372.8" stroke="#000" stroke-width="2.2"/>
<line x1="160.3" y1="372.8" x2="204.5" y2="372.8" stroke="#000" stroke-width="2.2"/>
<text x="98.8" y="385.8" font-size="11.3" font-weight="bold" text-anchor="middle" fill="#000" >BM</text>
<text x="182.5" y="385.8" font-size="11" font-weight="bold" text-anchor="middle" fill="#000" >SPL</text>
<text transform="translate(256.6,218.4) scale(1.06,1)" font-size="18" font-weight="bold">C</text>
<rect x="300.4" y="221.6" width="158.0" height="105.0" fill="none" stroke="#7a7a7a" stroke-width="1.1"/>
<text x="297.4" y="223.2" font-size="4.6" font-weight="normal" text-anchor="end" fill="#666" >60</text>
<line x1="298.9" y1="221.6" x2="300.4" y2="221.6" stroke="#777" stroke-width="0.6"/>
<text x="297.4" y="240.7" font-size="4.6" font-weight="normal" text-anchor="end" fill="#666" >50</text>
<line x1="298.9" y1="239.1" x2="300.4" y2="239.1" stroke="#777" stroke-width="0.6"/>
<text x="297.4" y="258.20000000000005" font-size="4.6" font-weight="normal" text-anchor="end" fill="#666" >40</text>
<line x1="298.9" y1="256.6" x2="300.4" y2="256.6" stroke="#777" stroke-width="0.6"/>
<text x="297.4" y="275.70000000000005" font-size="4.6" font-weight="normal" text-anchor="end" fill="#666" >30</text>
<line x1="298.9" y1="274.1" x2="300.4" y2="274.1" stroke="#777" stroke-width="0.6"/>
<text x="297.4" y="293.20000000000005" font-size="4.6" font-weight="normal" text-anchor="end" fill="#666" >20</text>
<line x1="298.9" y1="291.6" x2="300.4" y2="291.6" stroke="#777" stroke-width="0.6"/>
<text x="297.4" y="310.70000000000005" font-size="4.6" font-weight="normal" text-anchor="end" fill="#666" >10</text>
<line x1="298.9" y1="309.1" x2="300.4" y2="309.1" stroke="#777" stroke-width="0.6"/>
<text x="297.4" y="328.20000000000005" font-size="4.6" font-weight="normal" text-anchor="end" fill="#666" >0</text>
<line x1="298.9" y1="326.6" x2="300.4" y2="326.6" stroke="#777" stroke-width="0.6"/>
<text transform="translate(284.6,310.4) rotate(-90)" font-size="10.5" font-weight="bold">CD23<tspan dy="-4" font-size="8">-</tspan><tspan dy="4"> / CD23</tspan><tspan dy="-4" font-size="10">+</tspan></text>
<rect x="314.1" y="313.0" width="19.0" height="13.6" fill="#c6c6c6" stroke="#8a8a8a" stroke-width="0.7"/>
<rect x="333.10" y="289.90" width="18.40" height="36.70" fill="url(#hC)" stroke="#999" stroke-width="0.5"/>
<rect x="370.0" y="316.2" width="18.5" height="10.4" fill="#c6c6c6" stroke="#8a8a8a" stroke-width="0.7"/>
<rect x="388.50" y="296.90" width="19.20" height="29.70" fill="url(#hC)" stroke="#999" stroke-width="0.5"/>
<rect x="407.7" y="319.0" width="18.1" height="7.6" fill="#c6c6c6" stroke="#8a8a8a" stroke-width="0.7"/>
<rect x="425.80" y="262.40" width="19.20" height="64.20" fill="url(#hC)" stroke="#999" stroke-width="0.5"/>
<path d="M324.3,313.2 L326.2,315.1 L324.3,317.0 L322.4,315.1Z" fill="#000"/>
<path d="M324.3,315.2 L326.2,317.1 L324.3,319.0 L322.4,317.1Z" fill="#000"/>
<path d="M342.5,285.2 L344.4,287.1 L342.5,289.0 L340.6,287.1Z" fill="#000"/>
<path d="M342.5,292.3 L344.4,294.2 L342.5,296.1 L340.6,294.2Z" fill="#000"/>
<path d="M342.5,293.7 L344.4,295.6 L342.5,297.5 L340.6,295.6Z" fill="#000"/>
<path d="M379.8,313.3 L381.7,315.2 L379.8,317.1 L377.9,315.2Z" fill="#000"/>
<path d="M379.8,317.5 L381.7,319.4 L379.8,321.3 L377.9,319.4Z" fill="#000"/>
<path d="M379.8,319.4 L381.7,321.3 L379.8,323.2 L377.9,321.3Z" fill="#000"/>
<path d="M398.5,282.3 L400.4,284.2 L398.5,286.1 L396.6,284.2Z" fill="#000"/>
<path d="M398.5,290.0 L400.4,291.9 L398.5,293.8 L396.6,291.9Z" fill="#000"/>
<path d="M398.5,300.8 L400.4,302.7 L398.5,304.6 L396.6,302.7Z" fill="#000"/>
<path d="M398.5,307.3 L400.4,309.2 L398.5,311.1 L396.6,309.2Z" fill="#000"/>
<path d="M417.3,317.7 L419.2,319.6 L417.3,321.5 L415.4,319.6Z" fill="#000"/>
<path d="M417.3,319.7 L419.2,321.6 L417.3,323.5 L415.4,321.6Z" fill="#000"/>
<path d="M417.3,321.4 L419.2,323.3 L417.3,325.2 L415.4,323.3Z" fill="#000"/>
<path d="M436.2,229.0 L438.1,230.9 L436.2,232.8 L434.3,230.9Z" fill="#000"/>
<path d="M436.2,249.9 L438.1,251.8 L436.2,253.7 L434.3,251.8Z" fill="#000"/>
<path d="M436.2,271.1 L438.1,273.0 L436.2,274.9 L434.3,273.0Z" fill="#000"/>
<path d="M436.2,276.5 L438.1,278.4 L436.2,280.3 L434.3,278.4Z" fill="#000"/>
<path d="M436.2,279.8 L438.1,281.7 L436.2,283.6 L434.3,281.7Z" fill="#000"/>
<line x1="300.7" y1="221.6" x2="300.7" y2="326.6" stroke="#666" stroke-width="1.1"/>
<line x1="300.4" y1="326.7" x2="458.4" y2="326.7" stroke="#777" stroke-width="1.1"/>
<line x1="360.9" y1="221.6" x2="360.9" y2="326.6" stroke="#444" stroke-width="1.8"/>
<text transform="translate(317.7,336.4) rotate(45)" font-size="8.6" font-weight="bold" stroke="#000" stroke-width="0.2">B6</text>
<text transform="translate(335.6,333.0) rotate(45)" font-size="8.6" font-weight="bold" stroke="#000" stroke-width="0.2">B6.xid</text>
<text transform="translate(375.4,333.6) rotate(45)" font-size="8.6" font-weight="bold" stroke="#000" stroke-width="0.2">B6 only</text>
<text transform="translate(394.4,333.0) rotate(45)" font-size="8.6" font-weight="bold" stroke="#000" stroke-width="0.2">B6.xid only</text>
<text transform="translate(415.1,332.4) rotate(45)" font-size="8.6" font-weight="bold" stroke="#000" stroke-width="0.2">B6 + B6<tspan dx="0.3" dy="-3.3" font-size="6.4">SJL</tspan></text>
<text transform="translate(432.9,332.2) rotate(45)" font-size="8.6" font-weight="bold" stroke="#000" stroke-width="0.2">B6.xid + B6<tspan dx="0.3" dy="-3.3" font-size="6.4">SJL</tspan></text>
<line x1="304.8" y1="372.1" x2="350.2" y2="372.1" stroke="#000" stroke-width="2.2"/>
<line x1="360.5" y1="372.1" x2="463" y2="372.1" stroke="#000" stroke-width="2.2"/>
<text x="306.0" y="385.8" font-size="11" font-weight="bold" text-anchor="start" fill="#000" >Controls</text>
<text x="418.5" y="385.6" font-size="11.6" font-weight="bold" text-anchor="middle" fill="#000" >BM Chimeras</text>
</svg>
</body></html>
